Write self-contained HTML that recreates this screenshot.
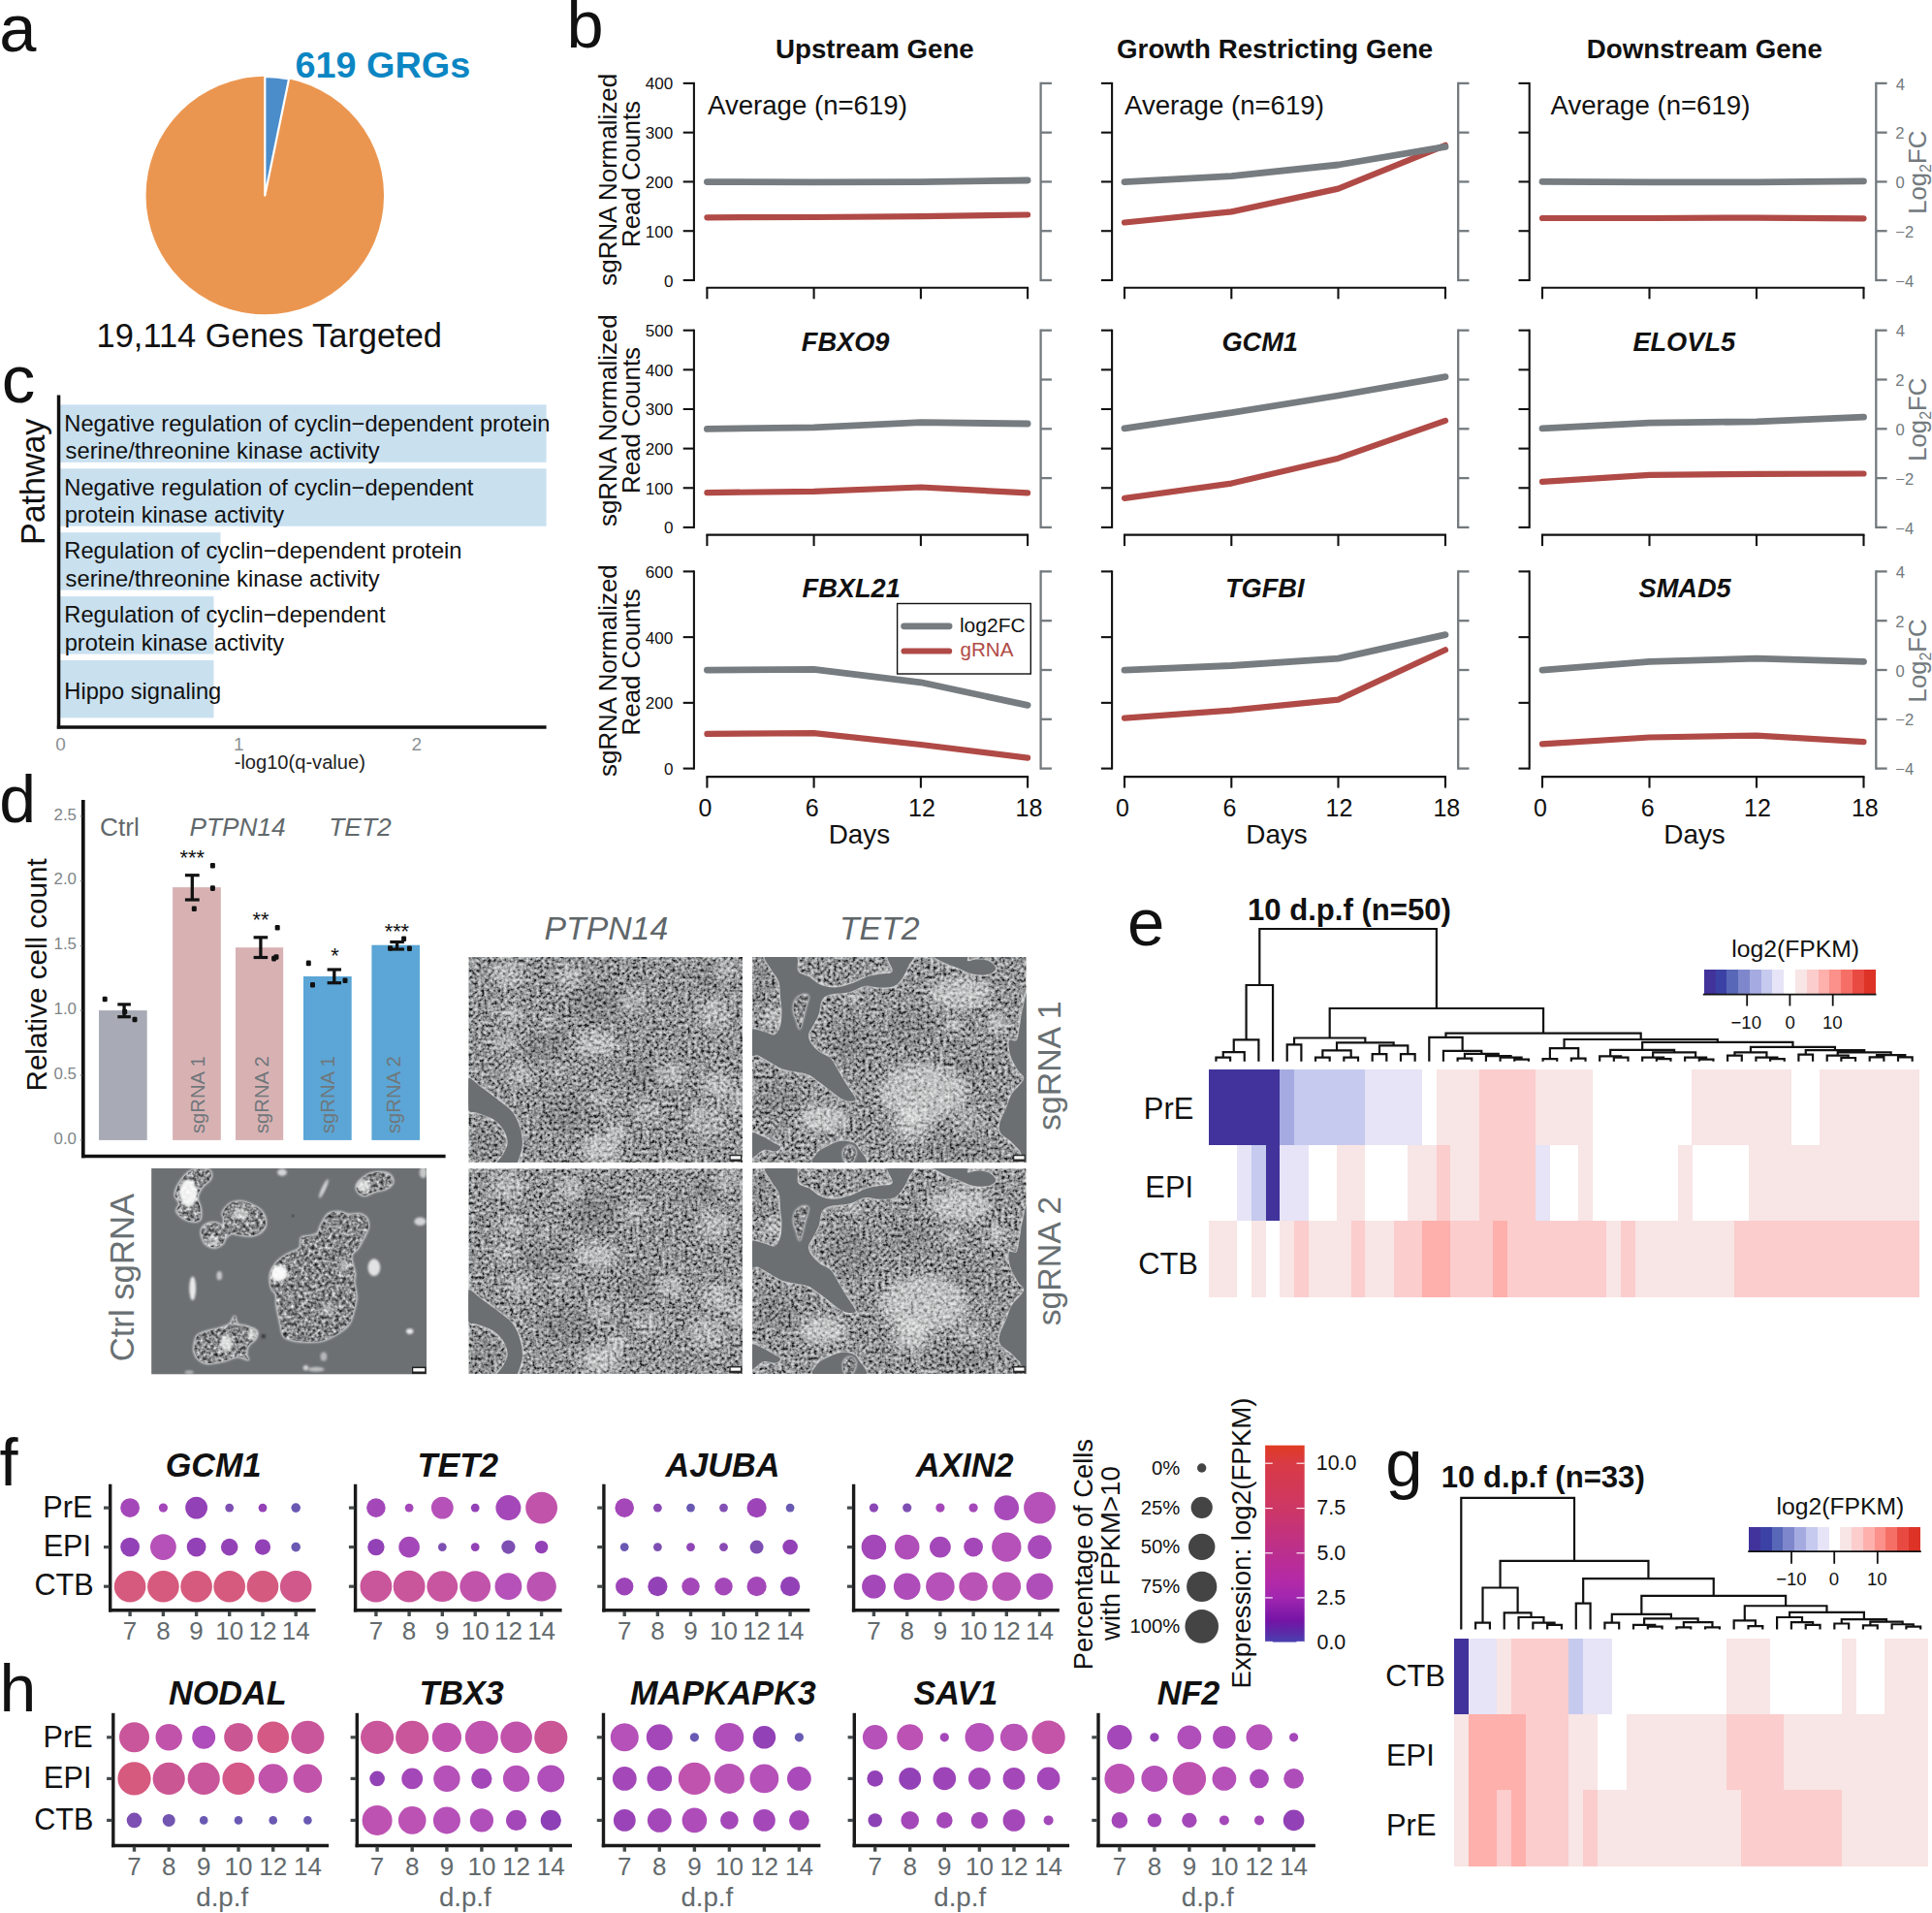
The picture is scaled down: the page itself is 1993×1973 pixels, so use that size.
<!DOCTYPE html>
<html><head><meta charset="utf-8"><title>Figure</title>
<style>html,body{margin:0;padding:0;background:#fff}svg{display:block}text{font-family:"Liberation Sans",sans-serif}</style>
</head><body>
<svg width="1993" height="1973" viewBox="0 0 1993 1973">
<rect width="1993" height="1973" fill="#fff"/>
<text x="-0.85" y="52.90" font-size="68.70" font-weight="normal" font-style="normal" fill="#111" text-anchor="start">a</text>
<circle cx="273.30" cy="201.55" r="122.75" fill="#eb9650"/>
<path d="M273.3,201.55 L273.3,78.80000000000001 A122.75,122.75 0 0 1 298.11,81.33 Z" fill="#4b8dcb" stroke="#fff" stroke-width="2.2" stroke-linejoin="round"/>
<text x="304.48" y="79.50" font-size="37.80" font-weight="bold" font-style="normal" fill="#0b86c3" text-anchor="start">619 GRGs</text>
<text x="99.62" y="357.60" font-size="34.40" font-weight="normal" font-style="normal" fill="#111" text-anchor="start">19,114 Genes Targeted</text>
<text x="584.45" y="49.20" font-size="68.50" font-weight="normal" font-style="normal" fill="#111" text-anchor="start">b</text>
<text x="800.04" y="60.00" font-size="27.70" font-weight="bold" font-style="normal" fill="#111" text-anchor="start">Upstream Gene</text>
<text x="1152.09" y="60.00" font-size="27.70" font-weight="bold" font-style="normal" fill="#111" text-anchor="start">Growth Restricting Gene</text>
<text x="1636.80" y="60.00" font-size="27.70" font-weight="bold" font-style="normal" fill="#111" text-anchor="start">Downstream Gene</text>
<polyline points="729.40,224.30 839.60,224.00 949.90,223.20 1060.10,221.50" fill="none" stroke="#b04a46" stroke-width="6.2" stroke-linecap="round" stroke-linejoin="round"/>
<polyline points="729.40,187.60 839.60,187.90 949.90,187.70 1060.10,186.00" fill="none" stroke="#767c80" stroke-width="6.8" stroke-linecap="round" stroke-linejoin="round"/>
<line x1="715.90" y1="84.90" x2="715.90" y2="290.00" stroke="#111" stroke-width="2.1" stroke-linecap="butt"/>
<line x1="704.70" y1="85.90" x2="715.90" y2="85.90" stroke="#111" stroke-width="2.1" stroke-linecap="butt"/>
<text x="694.40" y="92.40" font-size="17.10" font-weight="normal" font-style="normal" fill="#111" text-anchor="end">400</text>
<line x1="704.70" y1="136.68" x2="715.90" y2="136.68" stroke="#111" stroke-width="2.1" stroke-linecap="butt"/>
<text x="694.40" y="143.18" font-size="17.10" font-weight="normal" font-style="normal" fill="#111" text-anchor="end">300</text>
<line x1="704.70" y1="187.45" x2="715.90" y2="187.45" stroke="#111" stroke-width="2.1" stroke-linecap="butt"/>
<text x="694.40" y="193.95" font-size="17.10" font-weight="normal" font-style="normal" fill="#111" text-anchor="end">200</text>
<line x1="704.70" y1="238.22" x2="715.90" y2="238.22" stroke="#111" stroke-width="2.1" stroke-linecap="butt"/>
<text x="694.40" y="244.72" font-size="17.10" font-weight="normal" font-style="normal" fill="#111" text-anchor="end">100</text>
<line x1="704.70" y1="289.00" x2="715.90" y2="289.00" stroke="#111" stroke-width="2.1" stroke-linecap="butt"/>
<text x="694.40" y="295.50" font-size="17.10" font-weight="normal" font-style="normal" fill="#111" text-anchor="end">0</text>
<line x1="1073.60" y1="84.80" x2="1073.60" y2="290.10" stroke="#737a7e" stroke-width="2.3" stroke-linecap="butt"/>
<line x1="1073.60" y1="85.90" x2="1084.90" y2="85.90" stroke="#737a7e" stroke-width="2.3" stroke-linecap="butt"/>
<line x1="1073.60" y1="136.68" x2="1084.90" y2="136.68" stroke="#737a7e" stroke-width="2.3" stroke-linecap="butt"/>
<line x1="1073.60" y1="187.45" x2="1084.90" y2="187.45" stroke="#737a7e" stroke-width="2.3" stroke-linecap="butt"/>
<line x1="1073.60" y1="238.22" x2="1084.90" y2="238.22" stroke="#737a7e" stroke-width="2.3" stroke-linecap="butt"/>
<line x1="1073.60" y1="289.00" x2="1084.90" y2="289.00" stroke="#737a7e" stroke-width="2.3" stroke-linecap="butt"/>
<line x1="728.40" y1="296.80" x2="1061.10" y2="296.80" stroke="#111" stroke-width="2.1" stroke-linecap="butt"/>
<line x1="729.40" y1="296.80" x2="729.40" y2="308.30" stroke="#111" stroke-width="2.1" stroke-linecap="butt"/>
<line x1="839.60" y1="296.80" x2="839.60" y2="308.30" stroke="#111" stroke-width="2.1" stroke-linecap="butt"/>
<line x1="949.90" y1="296.80" x2="949.90" y2="308.30" stroke="#111" stroke-width="2.1" stroke-linecap="butt"/>
<line x1="1060.10" y1="296.80" x2="1060.10" y2="308.30" stroke="#111" stroke-width="2.1" stroke-linecap="butt"/>
<text x="730.00" y="118.20" font-size="27.60" font-weight="normal" font-style="normal" fill="#111" text-anchor="start">Average (n=619)</text>
<polyline points="1160.00,229.50 1270.30,218.40 1380.50,194.60 1491.00,149.80" fill="none" stroke="#b04a46" stroke-width="6.2" stroke-linecap="round" stroke-linejoin="round"/>
<polyline points="1160.00,187.60 1270.30,181.60 1380.50,170.00 1491.00,151.40" fill="none" stroke="#767c80" stroke-width="6.8" stroke-linecap="round" stroke-linejoin="round"/>
<line x1="1147.10" y1="84.90" x2="1147.10" y2="290.00" stroke="#111" stroke-width="2.1" stroke-linecap="butt"/>
<line x1="1135.90" y1="85.90" x2="1147.10" y2="85.90" stroke="#111" stroke-width="2.1" stroke-linecap="butt"/>
<line x1="1135.90" y1="136.68" x2="1147.10" y2="136.68" stroke="#111" stroke-width="2.1" stroke-linecap="butt"/>
<line x1="1135.90" y1="187.45" x2="1147.10" y2="187.45" stroke="#111" stroke-width="2.1" stroke-linecap="butt"/>
<line x1="1135.90" y1="238.22" x2="1147.10" y2="238.22" stroke="#111" stroke-width="2.1" stroke-linecap="butt"/>
<line x1="1135.90" y1="289.00" x2="1147.10" y2="289.00" stroke="#111" stroke-width="2.1" stroke-linecap="butt"/>
<line x1="1504.20" y1="84.80" x2="1504.20" y2="290.10" stroke="#737a7e" stroke-width="2.3" stroke-linecap="butt"/>
<line x1="1504.20" y1="85.90" x2="1515.50" y2="85.90" stroke="#737a7e" stroke-width="2.3" stroke-linecap="butt"/>
<line x1="1504.20" y1="136.68" x2="1515.50" y2="136.68" stroke="#737a7e" stroke-width="2.3" stroke-linecap="butt"/>
<line x1="1504.20" y1="187.45" x2="1515.50" y2="187.45" stroke="#737a7e" stroke-width="2.3" stroke-linecap="butt"/>
<line x1="1504.20" y1="238.22" x2="1515.50" y2="238.22" stroke="#737a7e" stroke-width="2.3" stroke-linecap="butt"/>
<line x1="1504.20" y1="289.00" x2="1515.50" y2="289.00" stroke="#737a7e" stroke-width="2.3" stroke-linecap="butt"/>
<line x1="1159.00" y1="296.80" x2="1492.00" y2="296.80" stroke="#111" stroke-width="2.1" stroke-linecap="butt"/>
<line x1="1160.00" y1="296.80" x2="1160.00" y2="308.30" stroke="#111" stroke-width="2.1" stroke-linecap="butt"/>
<line x1="1270.30" y1="296.80" x2="1270.30" y2="308.30" stroke="#111" stroke-width="2.1" stroke-linecap="butt"/>
<line x1="1380.50" y1="296.80" x2="1380.50" y2="308.30" stroke="#111" stroke-width="2.1" stroke-linecap="butt"/>
<line x1="1491.00" y1="296.80" x2="1491.00" y2="308.30" stroke="#111" stroke-width="2.1" stroke-linecap="butt"/>
<text x="1160.00" y="118.20" font-size="27.60" font-weight="normal" font-style="normal" fill="#111" text-anchor="start">Average (n=619)</text>
<polyline points="1591.00,225.00 1701.50,225.00 1812.00,224.60 1922.50,225.30" fill="none" stroke="#b04a46" stroke-width="6.2" stroke-linecap="round" stroke-linejoin="round"/>
<polyline points="1591.00,187.30 1701.50,187.80 1812.00,187.80 1922.50,186.80" fill="none" stroke="#767c80" stroke-width="6.8" stroke-linecap="round" stroke-linejoin="round"/>
<line x1="1577.70" y1="84.90" x2="1577.70" y2="290.00" stroke="#111" stroke-width="2.1" stroke-linecap="butt"/>
<line x1="1566.50" y1="85.90" x2="1577.70" y2="85.90" stroke="#111" stroke-width="2.1" stroke-linecap="butt"/>
<line x1="1566.50" y1="136.68" x2="1577.70" y2="136.68" stroke="#111" stroke-width="2.1" stroke-linecap="butt"/>
<line x1="1566.50" y1="187.45" x2="1577.70" y2="187.45" stroke="#111" stroke-width="2.1" stroke-linecap="butt"/>
<line x1="1566.50" y1="238.22" x2="1577.70" y2="238.22" stroke="#111" stroke-width="2.1" stroke-linecap="butt"/>
<line x1="1566.50" y1="289.00" x2="1577.70" y2="289.00" stroke="#111" stroke-width="2.1" stroke-linecap="butt"/>
<line x1="1935.30" y1="84.80" x2="1935.30" y2="290.10" stroke="#737a7e" stroke-width="2.3" stroke-linecap="butt"/>
<line x1="1935.30" y1="85.90" x2="1946.60" y2="85.90" stroke="#737a7e" stroke-width="2.3" stroke-linecap="butt"/>
<text x="1955.77" y="92.50" font-size="16.60" font-weight="normal" font-style="normal" fill="#737a7e" text-anchor="start">4</text>
<line x1="1935.30" y1="136.68" x2="1946.60" y2="136.68" stroke="#737a7e" stroke-width="2.3" stroke-linecap="butt"/>
<text x="1955.27" y="143.28" font-size="16.60" font-weight="normal" font-style="normal" fill="#737a7e" text-anchor="start">2</text>
<line x1="1935.30" y1="187.45" x2="1946.60" y2="187.45" stroke="#737a7e" stroke-width="2.3" stroke-linecap="butt"/>
<text x="1955.44" y="194.05" font-size="16.60" font-weight="normal" font-style="normal" fill="#737a7e" text-anchor="start">0</text>
<line x1="1935.30" y1="238.22" x2="1946.60" y2="238.22" stroke="#737a7e" stroke-width="2.3" stroke-linecap="butt"/>
<text x="1955.27" y="244.82" font-size="16.60" font-weight="normal" font-style="normal" fill="#737a7e" text-anchor="start">−2</text>
<line x1="1935.30" y1="289.00" x2="1946.60" y2="289.00" stroke="#737a7e" stroke-width="2.3" stroke-linecap="butt"/>
<text x="1955.27" y="295.60" font-size="16.60" font-weight="normal" font-style="normal" fill="#737a7e" text-anchor="start">−4</text>
<line x1="1590.00" y1="296.80" x2="1923.50" y2="296.80" stroke="#111" stroke-width="2.1" stroke-linecap="butt"/>
<line x1="1591.00" y1="296.80" x2="1591.00" y2="308.30" stroke="#111" stroke-width="2.1" stroke-linecap="butt"/>
<line x1="1701.50" y1="296.80" x2="1701.50" y2="308.30" stroke="#111" stroke-width="2.1" stroke-linecap="butt"/>
<line x1="1812.00" y1="296.80" x2="1812.00" y2="308.30" stroke="#111" stroke-width="2.1" stroke-linecap="butt"/>
<line x1="1922.50" y1="296.80" x2="1922.50" y2="308.30" stroke="#111" stroke-width="2.1" stroke-linecap="butt"/>
<text x="1599.50" y="118.20" font-size="27.60" font-weight="normal" font-style="normal" fill="#111" text-anchor="start">Average (n=619)</text>
<text x="636.30" y="294.65" font-size="25.90" font-weight="normal" font-style="normal" fill="#111" text-anchor="start" transform="rotate(-90 636.30 294.65)">sgRNA Normalized</text>
<text x="660.50" y="255.07" font-size="25.90" font-weight="normal" font-style="normal" fill="#111" text-anchor="start" transform="rotate(-90 660.50 255.07)">Read Counts</text>
<text x="1987" y="220.8" font-size="25.7" fill="#737a7e" transform="rotate(-90 1987 220.8)">Log<tspan font-size="16" dy="5.5">2</tspan><tspan dy="-5.5">FC</tspan></text>
<polyline points="729.40,508.10 839.60,506.90 949.90,502.50 1060.10,508.40" fill="none" stroke="#b04a46" stroke-width="6.2" stroke-linecap="round" stroke-linejoin="round"/>
<polyline points="729.40,442.40 839.60,440.90 949.90,435.70 1060.10,437.00" fill="none" stroke="#767c80" stroke-width="6.8" stroke-linecap="round" stroke-linejoin="round"/>
<line x1="715.90" y1="339.70" x2="715.90" y2="544.90" stroke="#111" stroke-width="2.1" stroke-linecap="butt"/>
<line x1="704.70" y1="340.70" x2="715.90" y2="340.70" stroke="#111" stroke-width="2.1" stroke-linecap="butt"/>
<text x="694.40" y="347.20" font-size="17.10" font-weight="normal" font-style="normal" fill="#111" text-anchor="end">500</text>
<line x1="704.70" y1="381.34" x2="715.90" y2="381.34" stroke="#111" stroke-width="2.1" stroke-linecap="butt"/>
<text x="694.40" y="387.84" font-size="17.10" font-weight="normal" font-style="normal" fill="#111" text-anchor="end">400</text>
<line x1="704.70" y1="421.98" x2="715.90" y2="421.98" stroke="#111" stroke-width="2.1" stroke-linecap="butt"/>
<text x="694.40" y="428.48" font-size="17.10" font-weight="normal" font-style="normal" fill="#111" text-anchor="end">300</text>
<line x1="704.70" y1="462.62" x2="715.90" y2="462.62" stroke="#111" stroke-width="2.1" stroke-linecap="butt"/>
<text x="694.40" y="469.12" font-size="17.10" font-weight="normal" font-style="normal" fill="#111" text-anchor="end">200</text>
<line x1="704.70" y1="503.26" x2="715.90" y2="503.26" stroke="#111" stroke-width="2.1" stroke-linecap="butt"/>
<text x="694.40" y="509.76" font-size="17.10" font-weight="normal" font-style="normal" fill="#111" text-anchor="end">100</text>
<line x1="704.70" y1="543.90" x2="715.90" y2="543.90" stroke="#111" stroke-width="2.1" stroke-linecap="butt"/>
<text x="694.40" y="550.40" font-size="17.10" font-weight="normal" font-style="normal" fill="#111" text-anchor="end">0</text>
<line x1="1073.60" y1="339.60" x2="1073.60" y2="545.00" stroke="#737a7e" stroke-width="2.3" stroke-linecap="butt"/>
<line x1="1073.60" y1="340.70" x2="1084.90" y2="340.70" stroke="#737a7e" stroke-width="2.3" stroke-linecap="butt"/>
<line x1="1073.60" y1="391.50" x2="1084.90" y2="391.50" stroke="#737a7e" stroke-width="2.3" stroke-linecap="butt"/>
<line x1="1073.60" y1="442.30" x2="1084.90" y2="442.30" stroke="#737a7e" stroke-width="2.3" stroke-linecap="butt"/>
<line x1="1073.60" y1="493.10" x2="1084.90" y2="493.10" stroke="#737a7e" stroke-width="2.3" stroke-linecap="butt"/>
<line x1="1073.60" y1="543.90" x2="1084.90" y2="543.90" stroke="#737a7e" stroke-width="2.3" stroke-linecap="butt"/>
<line x1="728.40" y1="551.60" x2="1061.10" y2="551.60" stroke="#111" stroke-width="2.1" stroke-linecap="butt"/>
<line x1="729.40" y1="551.60" x2="729.40" y2="563.10" stroke="#111" stroke-width="2.1" stroke-linecap="butt"/>
<line x1="839.60" y1="551.60" x2="839.60" y2="563.10" stroke="#111" stroke-width="2.1" stroke-linecap="butt"/>
<line x1="949.90" y1="551.60" x2="949.90" y2="563.10" stroke="#111" stroke-width="2.1" stroke-linecap="butt"/>
<line x1="1060.10" y1="551.60" x2="1060.10" y2="563.10" stroke="#111" stroke-width="2.1" stroke-linecap="butt"/>
<text x="826.79" y="361.90" font-size="27.20" font-weight="bold" font-style="italic" fill="#111" text-anchor="start">FBXO9</text>
<polyline points="1160.00,513.90 1270.30,498.60 1380.50,472.70 1491.00,433.90" fill="none" stroke="#b04a46" stroke-width="6.2" stroke-linecap="round" stroke-linejoin="round"/>
<polyline points="1160.00,441.80 1270.30,425.60 1380.50,408.00 1491.00,388.60" fill="none" stroke="#767c80" stroke-width="6.8" stroke-linecap="round" stroke-linejoin="round"/>
<line x1="1147.10" y1="339.70" x2="1147.10" y2="544.90" stroke="#111" stroke-width="2.1" stroke-linecap="butt"/>
<line x1="1135.90" y1="340.70" x2="1147.10" y2="340.70" stroke="#111" stroke-width="2.1" stroke-linecap="butt"/>
<line x1="1135.90" y1="381.34" x2="1147.10" y2="381.34" stroke="#111" stroke-width="2.1" stroke-linecap="butt"/>
<line x1="1135.90" y1="421.98" x2="1147.10" y2="421.98" stroke="#111" stroke-width="2.1" stroke-linecap="butt"/>
<line x1="1135.90" y1="462.62" x2="1147.10" y2="462.62" stroke="#111" stroke-width="2.1" stroke-linecap="butt"/>
<line x1="1135.90" y1="503.26" x2="1147.10" y2="503.26" stroke="#111" stroke-width="2.1" stroke-linecap="butt"/>
<line x1="1135.90" y1="543.90" x2="1147.10" y2="543.90" stroke="#111" stroke-width="2.1" stroke-linecap="butt"/>
<line x1="1504.20" y1="339.60" x2="1504.20" y2="545.00" stroke="#737a7e" stroke-width="2.3" stroke-linecap="butt"/>
<line x1="1504.20" y1="340.70" x2="1515.50" y2="340.70" stroke="#737a7e" stroke-width="2.3" stroke-linecap="butt"/>
<line x1="1504.20" y1="391.50" x2="1515.50" y2="391.50" stroke="#737a7e" stroke-width="2.3" stroke-linecap="butt"/>
<line x1="1504.20" y1="442.30" x2="1515.50" y2="442.30" stroke="#737a7e" stroke-width="2.3" stroke-linecap="butt"/>
<line x1="1504.20" y1="493.10" x2="1515.50" y2="493.10" stroke="#737a7e" stroke-width="2.3" stroke-linecap="butt"/>
<line x1="1504.20" y1="543.90" x2="1515.50" y2="543.90" stroke="#737a7e" stroke-width="2.3" stroke-linecap="butt"/>
<line x1="1159.00" y1="551.60" x2="1492.00" y2="551.60" stroke="#111" stroke-width="2.1" stroke-linecap="butt"/>
<line x1="1160.00" y1="551.60" x2="1160.00" y2="563.10" stroke="#111" stroke-width="2.1" stroke-linecap="butt"/>
<line x1="1270.30" y1="551.60" x2="1270.30" y2="563.10" stroke="#111" stroke-width="2.1" stroke-linecap="butt"/>
<line x1="1380.50" y1="551.60" x2="1380.50" y2="563.10" stroke="#111" stroke-width="2.1" stroke-linecap="butt"/>
<line x1="1491.00" y1="551.60" x2="1491.00" y2="563.10" stroke="#111" stroke-width="2.1" stroke-linecap="butt"/>
<text x="1260.44" y="361.90" font-size="27.20" font-weight="bold" font-style="italic" fill="#111" text-anchor="start">GCM1</text>
<polyline points="1591.00,496.80 1701.50,489.80 1812.00,488.90 1922.50,488.50" fill="none" stroke="#b04a46" stroke-width="6.2" stroke-linecap="round" stroke-linejoin="round"/>
<polyline points="1591.00,441.80 1701.50,436.20 1812.00,434.80 1922.50,430.20" fill="none" stroke="#767c80" stroke-width="6.8" stroke-linecap="round" stroke-linejoin="round"/>
<line x1="1577.70" y1="339.70" x2="1577.70" y2="544.90" stroke="#111" stroke-width="2.1" stroke-linecap="butt"/>
<line x1="1566.50" y1="340.70" x2="1577.70" y2="340.70" stroke="#111" stroke-width="2.1" stroke-linecap="butt"/>
<line x1="1566.50" y1="381.34" x2="1577.70" y2="381.34" stroke="#111" stroke-width="2.1" stroke-linecap="butt"/>
<line x1="1566.50" y1="421.98" x2="1577.70" y2="421.98" stroke="#111" stroke-width="2.1" stroke-linecap="butt"/>
<line x1="1566.50" y1="462.62" x2="1577.70" y2="462.62" stroke="#111" stroke-width="2.1" stroke-linecap="butt"/>
<line x1="1566.50" y1="503.26" x2="1577.70" y2="503.26" stroke="#111" stroke-width="2.1" stroke-linecap="butt"/>
<line x1="1566.50" y1="543.90" x2="1577.70" y2="543.90" stroke="#111" stroke-width="2.1" stroke-linecap="butt"/>
<line x1="1935.30" y1="339.60" x2="1935.30" y2="545.00" stroke="#737a7e" stroke-width="2.3" stroke-linecap="butt"/>
<line x1="1935.30" y1="340.70" x2="1946.60" y2="340.70" stroke="#737a7e" stroke-width="2.3" stroke-linecap="butt"/>
<text x="1955.77" y="347.30" font-size="16.60" font-weight="normal" font-style="normal" fill="#737a7e" text-anchor="start">4</text>
<line x1="1935.30" y1="391.50" x2="1946.60" y2="391.50" stroke="#737a7e" stroke-width="2.3" stroke-linecap="butt"/>
<text x="1955.27" y="398.10" font-size="16.60" font-weight="normal" font-style="normal" fill="#737a7e" text-anchor="start">2</text>
<line x1="1935.30" y1="442.30" x2="1946.60" y2="442.30" stroke="#737a7e" stroke-width="2.3" stroke-linecap="butt"/>
<text x="1955.44" y="448.90" font-size="16.60" font-weight="normal" font-style="normal" fill="#737a7e" text-anchor="start">0</text>
<line x1="1935.30" y1="493.10" x2="1946.60" y2="493.10" stroke="#737a7e" stroke-width="2.3" stroke-linecap="butt"/>
<text x="1955.27" y="499.70" font-size="16.60" font-weight="normal" font-style="normal" fill="#737a7e" text-anchor="start">−2</text>
<line x1="1935.30" y1="543.90" x2="1946.60" y2="543.90" stroke="#737a7e" stroke-width="2.3" stroke-linecap="butt"/>
<text x="1955.27" y="550.50" font-size="16.60" font-weight="normal" font-style="normal" fill="#737a7e" text-anchor="start">−4</text>
<line x1="1590.00" y1="551.60" x2="1923.50" y2="551.60" stroke="#111" stroke-width="2.1" stroke-linecap="butt"/>
<line x1="1591.00" y1="551.60" x2="1591.00" y2="563.10" stroke="#111" stroke-width="2.1" stroke-linecap="butt"/>
<line x1="1701.50" y1="551.60" x2="1701.50" y2="563.10" stroke="#111" stroke-width="2.1" stroke-linecap="butt"/>
<line x1="1812.00" y1="551.60" x2="1812.00" y2="563.10" stroke="#111" stroke-width="2.1" stroke-linecap="butt"/>
<line x1="1922.50" y1="551.60" x2="1922.50" y2="563.10" stroke="#111" stroke-width="2.1" stroke-linecap="butt"/>
<text x="1684.39" y="361.90" font-size="27.20" font-weight="bold" font-style="italic" fill="#111" text-anchor="start">ELOVL5</text>
<text x="636.30" y="543.05" font-size="25.90" font-weight="normal" font-style="normal" fill="#111" text-anchor="start" transform="rotate(-90 636.30 543.05)">sgRNA Normalized</text>
<text x="660.50" y="509.07" font-size="25.90" font-weight="normal" font-style="normal" fill="#111" text-anchor="start" transform="rotate(-90 660.50 509.07)">Read Counts</text>
<text x="1987" y="475.7" font-size="25.7" fill="#737a7e" transform="rotate(-90 1987 475.7)">Log<tspan font-size="16" dy="5.5">2</tspan><tspan dy="-5.5">FC</tspan></text>
<polyline points="729.40,756.90 839.60,756.10 949.90,768.00 1060.10,781.70" fill="none" stroke="#b04a46" stroke-width="6.2" stroke-linecap="round" stroke-linejoin="round"/>
<polyline points="729.40,691.10 839.60,690.30 949.90,703.80 1060.10,727.40" fill="none" stroke="#767c80" stroke-width="6.8" stroke-linecap="round" stroke-linejoin="round"/>
<line x1="715.90" y1="588.40" x2="715.90" y2="793.60" stroke="#111" stroke-width="2.1" stroke-linecap="butt"/>
<line x1="704.70" y1="589.40" x2="715.90" y2="589.40" stroke="#111" stroke-width="2.1" stroke-linecap="butt"/>
<text x="694.40" y="595.90" font-size="17.10" font-weight="normal" font-style="normal" fill="#111" text-anchor="end">600</text>
<line x1="704.70" y1="657.13" x2="715.90" y2="657.13" stroke="#111" stroke-width="2.1" stroke-linecap="butt"/>
<text x="694.40" y="663.63" font-size="17.10" font-weight="normal" font-style="normal" fill="#111" text-anchor="end">400</text>
<line x1="704.70" y1="724.87" x2="715.90" y2="724.87" stroke="#111" stroke-width="2.1" stroke-linecap="butt"/>
<text x="694.40" y="731.37" font-size="17.10" font-weight="normal" font-style="normal" fill="#111" text-anchor="end">200</text>
<line x1="704.70" y1="792.60" x2="715.90" y2="792.60" stroke="#111" stroke-width="2.1" stroke-linecap="butt"/>
<text x="694.40" y="799.10" font-size="17.10" font-weight="normal" font-style="normal" fill="#111" text-anchor="end">0</text>
<line x1="1073.60" y1="588.30" x2="1073.60" y2="793.70" stroke="#737a7e" stroke-width="2.3" stroke-linecap="butt"/>
<line x1="1073.60" y1="589.40" x2="1084.90" y2="589.40" stroke="#737a7e" stroke-width="2.3" stroke-linecap="butt"/>
<line x1="1073.60" y1="640.20" x2="1084.90" y2="640.20" stroke="#737a7e" stroke-width="2.3" stroke-linecap="butt"/>
<line x1="1073.60" y1="691.00" x2="1084.90" y2="691.00" stroke="#737a7e" stroke-width="2.3" stroke-linecap="butt"/>
<line x1="1073.60" y1="741.80" x2="1084.90" y2="741.80" stroke="#737a7e" stroke-width="2.3" stroke-linecap="butt"/>
<line x1="1073.60" y1="792.60" x2="1084.90" y2="792.60" stroke="#737a7e" stroke-width="2.3" stroke-linecap="butt"/>
<line x1="728.40" y1="801.10" x2="1061.10" y2="801.10" stroke="#111" stroke-width="2.1" stroke-linecap="butt"/>
<line x1="729.40" y1="801.10" x2="729.40" y2="812.60" stroke="#111" stroke-width="2.1" stroke-linecap="butt"/>
<line x1="839.60" y1="801.10" x2="839.60" y2="812.60" stroke="#111" stroke-width="2.1" stroke-linecap="butt"/>
<line x1="949.90" y1="801.10" x2="949.90" y2="812.60" stroke="#111" stroke-width="2.1" stroke-linecap="butt"/>
<line x1="1060.10" y1="801.10" x2="1060.10" y2="812.60" stroke="#111" stroke-width="2.1" stroke-linecap="butt"/>
<text x="720.50" y="841.70" font-size="25.00" font-weight="normal" font-style="normal" fill="#111" text-anchor="start">0</text>
<text x="830.75" y="841.70" font-size="25.00" font-weight="normal" font-style="normal" fill="#111" text-anchor="start">6</text>
<text x="937.02" y="841.70" font-size="25.00" font-weight="normal" font-style="normal" fill="#111" text-anchor="start">12</text>
<text x="1047.52" y="841.70" font-size="25.00" font-weight="normal" font-style="normal" fill="#111" text-anchor="start">18</text>
<text x="854.67" y="870.00" font-size="27.90" font-weight="normal" font-style="normal" fill="#111" text-anchor="start">Days</text>
<text x="827.59" y="615.80" font-size="27.20" font-weight="bold" font-style="italic" fill="#111" text-anchor="start">FBXL21</text>
<polyline points="1160.00,740.60 1270.30,732.70 1380.50,721.60 1491.00,670.30" fill="none" stroke="#b04a46" stroke-width="6.2" stroke-linecap="round" stroke-linejoin="round"/>
<polyline points="1160.00,691.10 1270.30,686.50 1380.50,679.10 1491.00,654.60" fill="none" stroke="#767c80" stroke-width="6.8" stroke-linecap="round" stroke-linejoin="round"/>
<line x1="1147.10" y1="588.40" x2="1147.10" y2="793.60" stroke="#111" stroke-width="2.1" stroke-linecap="butt"/>
<line x1="1135.90" y1="589.40" x2="1147.10" y2="589.40" stroke="#111" stroke-width="2.1" stroke-linecap="butt"/>
<line x1="1135.90" y1="657.13" x2="1147.10" y2="657.13" stroke="#111" stroke-width="2.1" stroke-linecap="butt"/>
<line x1="1135.90" y1="724.87" x2="1147.10" y2="724.87" stroke="#111" stroke-width="2.1" stroke-linecap="butt"/>
<line x1="1135.90" y1="792.60" x2="1147.10" y2="792.60" stroke="#111" stroke-width="2.1" stroke-linecap="butt"/>
<line x1="1504.20" y1="588.30" x2="1504.20" y2="793.70" stroke="#737a7e" stroke-width="2.3" stroke-linecap="butt"/>
<line x1="1504.20" y1="589.40" x2="1515.50" y2="589.40" stroke="#737a7e" stroke-width="2.3" stroke-linecap="butt"/>
<line x1="1504.20" y1="640.20" x2="1515.50" y2="640.20" stroke="#737a7e" stroke-width="2.3" stroke-linecap="butt"/>
<line x1="1504.20" y1="691.00" x2="1515.50" y2="691.00" stroke="#737a7e" stroke-width="2.3" stroke-linecap="butt"/>
<line x1="1504.20" y1="741.80" x2="1515.50" y2="741.80" stroke="#737a7e" stroke-width="2.3" stroke-linecap="butt"/>
<line x1="1504.20" y1="792.60" x2="1515.50" y2="792.60" stroke="#737a7e" stroke-width="2.3" stroke-linecap="butt"/>
<line x1="1159.00" y1="801.10" x2="1492.00" y2="801.10" stroke="#111" stroke-width="2.1" stroke-linecap="butt"/>
<line x1="1160.00" y1="801.10" x2="1160.00" y2="812.60" stroke="#111" stroke-width="2.1" stroke-linecap="butt"/>
<line x1="1270.30" y1="801.10" x2="1270.30" y2="812.60" stroke="#111" stroke-width="2.1" stroke-linecap="butt"/>
<line x1="1380.50" y1="801.10" x2="1380.50" y2="812.60" stroke="#111" stroke-width="2.1" stroke-linecap="butt"/>
<line x1="1491.00" y1="801.10" x2="1491.00" y2="812.60" stroke="#111" stroke-width="2.1" stroke-linecap="butt"/>
<text x="1151.10" y="841.70" font-size="25.00" font-weight="normal" font-style="normal" fill="#111" text-anchor="start">0</text>
<text x="1261.45" y="841.70" font-size="25.00" font-weight="normal" font-style="normal" fill="#111" text-anchor="start">6</text>
<text x="1367.62" y="841.70" font-size="25.00" font-weight="normal" font-style="normal" fill="#111" text-anchor="start">12</text>
<text x="1478.42" y="841.70" font-size="25.00" font-weight="normal" font-style="normal" fill="#111" text-anchor="start">18</text>
<text x="1285.27" y="870.00" font-size="27.90" font-weight="normal" font-style="normal" fill="#111" text-anchor="start">Days</text>
<text x="1263.90" y="615.80" font-size="27.20" font-weight="bold" font-style="italic" fill="#111" text-anchor="start">TGFBI</text>
<polyline points="1591.00,767.40 1701.50,760.50 1812.00,758.60 1922.50,765.10" fill="none" stroke="#b04a46" stroke-width="6.2" stroke-linecap="round" stroke-linejoin="round"/>
<polyline points="1591.00,691.10 1701.50,682.30 1812.00,679.10 1922.50,682.30" fill="none" stroke="#767c80" stroke-width="6.8" stroke-linecap="round" stroke-linejoin="round"/>
<line x1="1577.70" y1="588.40" x2="1577.70" y2="793.60" stroke="#111" stroke-width="2.1" stroke-linecap="butt"/>
<line x1="1566.50" y1="589.40" x2="1577.70" y2="589.40" stroke="#111" stroke-width="2.1" stroke-linecap="butt"/>
<line x1="1566.50" y1="657.13" x2="1577.70" y2="657.13" stroke="#111" stroke-width="2.1" stroke-linecap="butt"/>
<line x1="1566.50" y1="724.87" x2="1577.70" y2="724.87" stroke="#111" stroke-width="2.1" stroke-linecap="butt"/>
<line x1="1566.50" y1="792.60" x2="1577.70" y2="792.60" stroke="#111" stroke-width="2.1" stroke-linecap="butt"/>
<line x1="1935.30" y1="588.30" x2="1935.30" y2="793.70" stroke="#737a7e" stroke-width="2.3" stroke-linecap="butt"/>
<line x1="1935.30" y1="589.40" x2="1946.60" y2="589.40" stroke="#737a7e" stroke-width="2.3" stroke-linecap="butt"/>
<text x="1955.77" y="596.00" font-size="16.60" font-weight="normal" font-style="normal" fill="#737a7e" text-anchor="start">4</text>
<line x1="1935.30" y1="640.20" x2="1946.60" y2="640.20" stroke="#737a7e" stroke-width="2.3" stroke-linecap="butt"/>
<text x="1955.27" y="646.80" font-size="16.60" font-weight="normal" font-style="normal" fill="#737a7e" text-anchor="start">2</text>
<line x1="1935.30" y1="691.00" x2="1946.60" y2="691.00" stroke="#737a7e" stroke-width="2.3" stroke-linecap="butt"/>
<text x="1955.44" y="697.60" font-size="16.60" font-weight="normal" font-style="normal" fill="#737a7e" text-anchor="start">0</text>
<line x1="1935.30" y1="741.80" x2="1946.60" y2="741.80" stroke="#737a7e" stroke-width="2.3" stroke-linecap="butt"/>
<text x="1955.27" y="748.40" font-size="16.60" font-weight="normal" font-style="normal" fill="#737a7e" text-anchor="start">−2</text>
<line x1="1935.30" y1="792.60" x2="1946.60" y2="792.60" stroke="#737a7e" stroke-width="2.3" stroke-linecap="butt"/>
<text x="1955.27" y="799.20" font-size="16.60" font-weight="normal" font-style="normal" fill="#737a7e" text-anchor="start">−4</text>
<line x1="1590.00" y1="801.10" x2="1923.50" y2="801.10" stroke="#111" stroke-width="2.1" stroke-linecap="butt"/>
<line x1="1591.00" y1="801.10" x2="1591.00" y2="812.60" stroke="#111" stroke-width="2.1" stroke-linecap="butt"/>
<line x1="1701.50" y1="801.10" x2="1701.50" y2="812.60" stroke="#111" stroke-width="2.1" stroke-linecap="butt"/>
<line x1="1812.00" y1="801.10" x2="1812.00" y2="812.60" stroke="#111" stroke-width="2.1" stroke-linecap="butt"/>
<line x1="1922.50" y1="801.10" x2="1922.50" y2="812.60" stroke="#111" stroke-width="2.1" stroke-linecap="butt"/>
<text x="1582.10" y="841.70" font-size="25.00" font-weight="normal" font-style="normal" fill="#111" text-anchor="start">0</text>
<text x="1692.65" y="841.70" font-size="25.00" font-weight="normal" font-style="normal" fill="#111" text-anchor="start">6</text>
<text x="1799.12" y="841.70" font-size="25.00" font-weight="normal" font-style="normal" fill="#111" text-anchor="start">12</text>
<text x="1909.92" y="841.70" font-size="25.00" font-weight="normal" font-style="normal" fill="#111" text-anchor="start">18</text>
<text x="1716.27" y="870.00" font-size="27.90" font-weight="normal" font-style="normal" fill="#111" text-anchor="start">Days</text>
<text x="1690.53" y="615.80" font-size="27.20" font-weight="bold" font-style="italic" fill="#111" text-anchor="start">SMAD5</text>
<text x="636.30" y="800.95" font-size="25.90" font-weight="normal" font-style="normal" fill="#111" text-anchor="start" transform="rotate(-90 636.30 800.95)">sgRNA Normalized</text>
<text x="660.50" y="758.47" font-size="25.90" font-weight="normal" font-style="normal" fill="#111" text-anchor="start" transform="rotate(-90 660.50 758.47)">Read Counts</text>
<text x="1987" y="724.4" font-size="25.7" fill="#737a7e" transform="rotate(-90 1987 724.4)">Log<tspan font-size="16" dy="5.5">2</tspan><tspan dy="-5.5">FC</tspan></text>
<rect x="925.60" y="622.50" width="137.70" height="72.50" fill="#fff" stroke="#111" stroke-width="1.4"/>
<line x1="932.60" y1="645.80" x2="979.10" y2="645.80" stroke="#767c80" stroke-width="6.8" stroke-linecap="round"/>
<line x1="932.60" y1="671.50" x2="979.10" y2="671.50" stroke="#b04a46" stroke-width="6.2" stroke-linecap="round"/>
<text x="989.93" y="652.30" font-size="21.00" font-weight="normal" font-style="normal" fill="#111" text-anchor="start">log2FC</text>
<text x="990.48" y="677.40" font-size="20.60" font-weight="normal" font-style="normal" fill="#b04a46" text-anchor="start">gRNA</text>
<text x="1.64" y="414.70" font-size="69.00" font-weight="normal" font-style="normal" fill="#111" text-anchor="start">c</text>
<rect x="61.00" y="417.40" width="502.60" height="59.40" fill="#c9e0ef"/>
<text x="66.30" y="444.60" font-size="23.70" font-weight="normal" font-style="normal" fill="#111" text-anchor="start">Negative regulation of cyclin−dependent protein</text>
<text x="67.61" y="473.40" font-size="23.70" font-weight="normal" font-style="normal" fill="#111" text-anchor="start">serine/threonine kinase activity</text>
<rect x="61.00" y="483.30" width="502.60" height="59.40" fill="#c9e0ef"/>
<text x="66.30" y="510.50" font-size="23.70" font-weight="normal" font-style="normal" fill="#111" text-anchor="start">Negative regulation of cyclin−dependent</text>
<text x="66.66" y="539.30" font-size="23.70" font-weight="normal" font-style="normal" fill="#111" text-anchor="start">protein kinase activity</text>
<rect x="61.00" y="549.20" width="166.50" height="59.40" fill="#c9e0ef"/>
<text x="66.30" y="576.40" font-size="23.70" font-weight="normal" font-style="normal" fill="#111" text-anchor="start">Regulation of cyclin−dependent protein</text>
<text x="67.61" y="605.20" font-size="23.70" font-weight="normal" font-style="normal" fill="#111" text-anchor="start">serine/threonine kinase activity</text>
<rect x="61.00" y="615.10" width="159.50" height="59.40" fill="#c9e0ef"/>
<text x="66.30" y="642.30" font-size="23.70" font-weight="normal" font-style="normal" fill="#111" text-anchor="start">Regulation of cyclin−dependent</text>
<text x="66.66" y="671.10" font-size="23.70" font-weight="normal" font-style="normal" fill="#111" text-anchor="start">protein kinase activity</text>
<rect x="61.00" y="681.00" width="159.50" height="59.40" fill="#c9e0ef"/>
<text x="66.30" y="721.40" font-size="23.70" font-weight="normal" font-style="normal" fill="#111" text-anchor="start">Hippo signaling</text>
<line x1="60.55" y1="407.60" x2="60.55" y2="751.60" stroke="#111" stroke-width="3.5" stroke-linecap="butt"/>
<line x1="58.80" y1="750.00" x2="563.60" y2="750.00" stroke="#111" stroke-width="3.3" stroke-linecap="butt"/>
<text x="62.60" y="774.40" font-size="19.00" font-weight="normal" font-style="normal" fill="#8b9194" text-anchor="middle">0</text>
<text x="246.30" y="774.40" font-size="19.00" font-weight="normal" font-style="normal" fill="#8b9194" text-anchor="middle">1</text>
<text x="429.70" y="774.40" font-size="19.00" font-weight="normal" font-style="normal" fill="#8b9194" text-anchor="middle">2</text>
<text x="241.70" y="792.80" font-size="20.10" font-weight="normal" font-style="normal" fill="#222" text-anchor="start">-log10(q-value)</text>
<text x="45.80" y="562.02" font-size="35.30" font-weight="normal" font-style="normal" fill="#111" text-anchor="start" transform="rotate(-90 45.80 562.02)" textLength="130.4" lengthAdjust="spacingAndGlyphs">Pathway</text>
<text x="-0.82" y="847.80" font-size="68.00" font-weight="normal" font-style="normal" fill="#111" text-anchor="start">d</text>
<rect x="102.00" y="1042.10" width="49.70" height="133.80" fill="#a8abb5"/>
<rect x="178.10" y="915.10" width="49.70" height="260.80" fill="#d8b2b3"/>
<rect x="243.00" y="977.20" width="49.20" height="198.70" fill="#d8b2b3"/>
<rect x="313.00" y="1007.00" width="49.70" height="168.90" fill="#5ba6d6"/>
<rect x="383.40" y="974.70" width="49.60" height="201.20" fill="#5ba6d6"/>
<text x="210.70" y="1169.01" font-size="20.20" font-weight="normal" font-style="normal" fill="#70777b" text-anchor="start" transform="rotate(-90 210.70 1169.01)">sgRNA 1</text>
<text x="277.20" y="1169.01" font-size="20.20" font-weight="normal" font-style="normal" fill="#70777b" text-anchor="start" transform="rotate(-90 277.20 1169.01)">sgRNA 2</text>
<text x="345.30" y="1169.01" font-size="20.20" font-weight="normal" font-style="normal" fill="#70777b" text-anchor="start" transform="rotate(-90 345.30 1169.01)">sgRNA 1</text>
<text x="412.60" y="1169.01" font-size="20.20" font-weight="normal" font-style="normal" fill="#70777b" text-anchor="start" transform="rotate(-90 412.60 1169.01)">sgRNA 2</text>
<line x1="128.10" y1="1035.90" x2="128.10" y2="1048.70" stroke="#111" stroke-width="3.3" stroke-linecap="butt"/>
<line x1="121.30" y1="1035.90" x2="134.90" y2="1035.90" stroke="#111" stroke-width="3.2" stroke-linecap="butt"/>
<line x1="121.30" y1="1048.70" x2="134.90" y2="1048.70" stroke="#111" stroke-width="3.2" stroke-linecap="butt"/>
<line x1="198.30" y1="902.70" x2="198.30" y2="928.00" stroke="#111" stroke-width="3.3" stroke-linecap="butt"/>
<line x1="190.90" y1="902.70" x2="205.70" y2="902.70" stroke="#111" stroke-width="3.2" stroke-linecap="butt"/>
<line x1="190.90" y1="928.00" x2="205.70" y2="928.00" stroke="#111" stroke-width="3.2" stroke-linecap="butt"/>
<line x1="268.90" y1="966.80" x2="268.90" y2="987.50" stroke="#111" stroke-width="3.3" stroke-linecap="butt"/>
<line x1="261.60" y1="966.80" x2="276.20" y2="966.80" stroke="#111" stroke-width="3.2" stroke-linecap="butt"/>
<line x1="261.60" y1="987.50" x2="276.20" y2="987.50" stroke="#111" stroke-width="3.2" stroke-linecap="butt"/>
<line x1="344.80" y1="1000.00" x2="344.80" y2="1013.70" stroke="#111" stroke-width="3.3" stroke-linecap="butt"/>
<line x1="337.60" y1="1000.00" x2="352.00" y2="1000.00" stroke="#111" stroke-width="3.2" stroke-linecap="butt"/>
<line x1="337.60" y1="1013.70" x2="352.00" y2="1013.70" stroke="#111" stroke-width="3.2" stroke-linecap="butt"/>
<line x1="409.60" y1="971.50" x2="409.60" y2="979.00" stroke="#111" stroke-width="3.3" stroke-linecap="butt"/>
<line x1="402.30" y1="971.50" x2="416.90" y2="971.50" stroke="#111" stroke-width="3.2" stroke-linecap="butt"/>
<line x1="402.30" y1="979.00" x2="416.90" y2="979.00" stroke="#111" stroke-width="3.2" stroke-linecap="butt"/>
<rect x="105.70" y="1027.70" width="5.00" height="5.60" fill="#111" rx="1.3"/>
<rect x="136.50" y="1048.70" width="5.00" height="5.60" fill="#111" rx="1.3"/>
<rect x="126.20" y="1040.70" width="5.00" height="5.60" fill="#111" rx="1.3"/>
<rect x="216.90" y="890.00" width="5.00" height="5.60" fill="#111" rx="1.3"/>
<rect x="216.90" y="913.30" width="5.00" height="5.60" fill="#111" rx="1.3"/>
<rect x="197.80" y="934.50" width="5.00" height="5.60" fill="#111" rx="1.3"/>
<rect x="283.70" y="953.90" width="5.00" height="5.60" fill="#111" rx="1.3"/>
<rect x="282.50" y="984.20" width="5.00" height="5.60" fill="#111" rx="1.3"/>
<rect x="280.10" y="985.80" width="5.00" height="5.60" fill="#111" rx="1.3"/>
<rect x="315.80" y="990.60" width="5.00" height="5.60" fill="#111" rx="1.3"/>
<rect x="320.00" y="1012.90" width="5.00" height="5.60" fill="#111" rx="1.3"/>
<rect x="353.50" y="1008.40" width="5.00" height="5.60" fill="#111" rx="1.3"/>
<rect x="414.10" y="965.50" width="5.00" height="5.60" fill="#111" rx="1.3"/>
<rect x="419.90" y="975.40" width="5.00" height="5.60" fill="#111" rx="1.3"/>
<rect x="400.00" y="975.20" width="5.00" height="5.60" fill="#111" rx="1.3"/>
<text x="185.57" y="892.00" font-size="21.80" font-weight="normal" font-style="normal" fill="#111" text-anchor="start">***</text>
<text x="260.57" y="956.30" font-size="21.80" font-weight="normal" font-style="normal" fill="#111" text-anchor="start">**</text>
<text x="341.27" y="992.60" font-size="21.80" font-weight="normal" font-style="normal" fill="#111" text-anchor="start">*</text>
<text x="396.67" y="968.40" font-size="21.80" font-weight="normal" font-style="normal" fill="#111" text-anchor="start">***</text>
<text x="102.99" y="862.00" font-size="26.20" font-weight="normal" font-style="normal" fill="#61686b" text-anchor="start">Ctrl</text>
<text x="195.61" y="862.00" font-size="26.20" font-weight="normal" font-style="italic" fill="#61686b" text-anchor="start">PTPN14</text>
<text x="339.22" y="862.00" font-size="26.40" font-weight="normal" font-style="italic" fill="#61686b" text-anchor="start">TET2</text>
<line x1="85.80" y1="825.00" x2="85.80" y2="1194.20" stroke="#111" stroke-width="3.7" stroke-linecap="butt"/>
<line x1="84.40" y1="1192.50" x2="459.60" y2="1192.50" stroke="#111" stroke-width="3.4" stroke-linecap="butt"/>
<text x="79.00" y="845.60" font-size="16.90" font-weight="normal" font-style="normal" fill="#7f8588" text-anchor="end">2.5</text>
<line x1="83.00" y1="841.80" x2="84.60" y2="841.80" stroke="#7f8588" stroke-width="1.5" stroke-linecap="butt"/>
<text x="79.00" y="912.42" font-size="16.90" font-weight="normal" font-style="normal" fill="#7f8588" text-anchor="end">2.0</text>
<line x1="83.00" y1="908.62" x2="84.60" y2="908.62" stroke="#7f8588" stroke-width="1.5" stroke-linecap="butt"/>
<text x="79.00" y="979.24" font-size="16.90" font-weight="normal" font-style="normal" fill="#7f8588" text-anchor="end">1.5</text>
<line x1="83.00" y1="975.44" x2="84.60" y2="975.44" stroke="#7f8588" stroke-width="1.5" stroke-linecap="butt"/>
<text x="79.00" y="1046.06" font-size="16.90" font-weight="normal" font-style="normal" fill="#7f8588" text-anchor="end">1.0</text>
<line x1="83.00" y1="1042.26" x2="84.60" y2="1042.26" stroke="#7f8588" stroke-width="1.5" stroke-linecap="butt"/>
<text x="79.00" y="1112.88" font-size="16.90" font-weight="normal" font-style="normal" fill="#7f8588" text-anchor="end">0.5</text>
<line x1="83.00" y1="1109.08" x2="84.60" y2="1109.08" stroke="#7f8588" stroke-width="1.5" stroke-linecap="butt"/>
<text x="79.00" y="1179.70" font-size="16.90" font-weight="normal" font-style="normal" fill="#7f8588" text-anchor="end">0.0</text>
<line x1="83.00" y1="1175.90" x2="84.60" y2="1175.90" stroke="#7f8588" stroke-width="1.5" stroke-linecap="butt"/>
<text x="48.40" y="1125.47" font-size="29.60" font-weight="normal" font-style="normal" fill="#111" text-anchor="start" transform="rotate(-90 48.40 1125.47)">Relative cell count</text>
<defs>
<filter id="cellA" x="-5%" y="-5%" width="110%" height="110%" color-interpolation-filters="sRGB">
<feTurbulence type="fractalNoise" baseFrequency="0.28" numOctaves="2" seed="7" result="n"/>
<feColorMatrix in="n" type="matrix" values="1.25 0 0 0 -0.10  1.25 0 0 0 -0.095  1.25 0 0 0 -0.09  0 0 0 0 1" result="g"/>
<feComposite in="g" in2="SourceAlpha" operator="in"/>
</filter>
<filter id="cellB" x="0" y="0" width="100%" height="100%" color-interpolation-filters="sRGB">
<feTurbulence type="fractalNoise" baseFrequency="0.3" numOctaves="2" seed="11" result="n"/>
<feColorMatrix in="n" type="matrix" values="2.0 0 0 0 -0.55  2.0 0 0 0 -0.55  2.0 0 0 0 -0.55  0 0 0 0 1" result="g0"/>
<feComponentTransfer in="g0" result="g"><feFuncR type="gamma" amplitude="0.72" exponent="0.55" offset="0.115"/><feFuncG type="gamma" amplitude="0.72" exponent="0.55" offset="0.12"/><feFuncB type="gamma" amplitude="0.72" exponent="0.55" offset="0.125"/></feComponentTransfer>
<feComposite in="g" in2="SourceAlpha" operator="in"/>
</filter>
<filter id="bl1" x="-20%" y="-20%" width="140%" height="140%"><feGaussianBlur stdDeviation="0.8"/></filter>
<filter id="bl3" x="-50%" y="-50%" width="200%" height="200%"><feGaussianBlur stdDeviation="3"/></filter>
<filter id="bl4" x="-50%" y="-50%" width="200%" height="200%"><feGaussianBlur stdDeviation="4.5"/></filter>
<filter id="bl6" x="-50%" y="-50%" width="200%" height="200%"><feGaussianBlur stdDeviation="6"/></filter>
<filter id="bl10" x="-50%" y="-50%" width="200%" height="200%"><feGaussianBlur stdDeviation="10"/></filter>
</defs>
<clipPath id="cpC"><rect x="156.1" y="1205.0" width="283.9" height="212.6"/></clipPath>
<g clip-path="url(#cpC)">
<rect x="156.10" y="1205.00" width="283.90" height="212.60" fill="#6c7073"/>
<path d="M330.8,1264.3 C332.6,1261.0 335.4,1254.5 338.4,1252.1 C341.5,1249.7 345.6,1249.7 349.2,1249.8 C352.7,1249.9 356.3,1252.5 359.9,1252.9 C363.5,1253.2 367.6,1251.5 370.6,1252.1 C373.7,1252.7 376.8,1254.4 378.3,1256.7 C379.8,1259.0 380.3,1262.6 379.8,1265.9 C379.3,1269.2 377.0,1273.0 375.2,1276.6 C373.4,1280.2 371.1,1284.5 369.1,1287.3 C367.0,1290.1 364.0,1291.2 363.0,1293.5 C361.9,1295.8 362.5,1297.8 363.0,1301.1 C363.5,1304.4 365.6,1309.8 366.0,1313.4 C366.4,1317.0 365.0,1318.5 365.3,1322.6 C365.5,1326.7 367.7,1332.8 367.6,1337.9 C367.4,1343.0 365.8,1348.6 364.5,1353.2 C363.2,1357.8 362.5,1361.9 359.9,1365.5 C357.3,1369.0 353.5,1371.9 349.2,1374.7 C344.8,1377.5 339.0,1380.8 333.9,1382.3 C328.7,1383.9 323.9,1383.9 318.5,1383.9 C313.2,1383.9 306.0,1383.3 301.7,1382.3 C297.3,1381.3 294.5,1380.5 292.5,1377.7 C290.4,1374.9 290.6,1370.6 289.4,1365.5 C288.3,1360.4 286.4,1352.2 285.6,1347.1 C284.8,1342.0 285.7,1337.9 284.8,1334.8 C283.9,1331.8 281.2,1331.8 280.2,1328.7 C279.2,1325.6 278.4,1320.0 278.7,1316.4 C279.0,1312.9 280.2,1310.1 281.8,1307.2 C283.3,1304.4 285.3,1301.9 287.9,1299.6 C290.4,1297.3 293.5,1295.5 297.1,1293.5 C300.7,1291.4 307.0,1290.1 309.3,1287.3 C311.6,1284.5 309.3,1278.6 310.9,1276.6 C312.4,1274.6 315.7,1275.8 318.5,1275.1 C321.3,1274.3 325.7,1273.8 327.7,1272.0 C329.8,1270.2 329.0,1267.7 330.8,1264.3 Z" fill="#fff" stroke="#e8e8e8" stroke-width="2.2" filter="url(#bl1)" opacity="0.85"/>
<path d="M330.8,1264.3 C332.6,1261.0 335.4,1254.5 338.4,1252.1 C341.5,1249.7 345.6,1249.7 349.2,1249.8 C352.7,1249.9 356.3,1252.5 359.9,1252.9 C363.5,1253.2 367.6,1251.5 370.6,1252.1 C373.7,1252.7 376.8,1254.4 378.3,1256.7 C379.8,1259.0 380.3,1262.6 379.8,1265.9 C379.3,1269.2 377.0,1273.0 375.2,1276.6 C373.4,1280.2 371.1,1284.5 369.1,1287.3 C367.0,1290.1 364.0,1291.2 363.0,1293.5 C361.9,1295.8 362.5,1297.8 363.0,1301.1 C363.5,1304.4 365.6,1309.8 366.0,1313.4 C366.4,1317.0 365.0,1318.5 365.3,1322.6 C365.5,1326.7 367.7,1332.8 367.6,1337.9 C367.4,1343.0 365.8,1348.6 364.5,1353.2 C363.2,1357.8 362.5,1361.9 359.9,1365.5 C357.3,1369.0 353.5,1371.9 349.2,1374.7 C344.8,1377.5 339.0,1380.8 333.9,1382.3 C328.7,1383.9 323.9,1383.9 318.5,1383.9 C313.2,1383.9 306.0,1383.3 301.7,1382.3 C297.3,1381.3 294.5,1380.5 292.5,1377.7 C290.4,1374.9 290.6,1370.6 289.4,1365.5 C288.3,1360.4 286.4,1352.2 285.6,1347.1 C284.8,1342.0 285.7,1337.9 284.8,1334.8 C283.9,1331.8 281.2,1331.8 280.2,1328.7 C279.2,1325.6 278.4,1320.0 278.7,1316.4 C279.0,1312.9 280.2,1310.1 281.8,1307.2 C283.3,1304.4 285.3,1301.9 287.9,1299.6 C290.4,1297.3 293.5,1295.5 297.1,1293.5 C300.7,1291.4 307.0,1290.1 309.3,1287.3 C311.6,1284.5 309.3,1278.6 310.9,1276.6 C312.4,1274.6 315.7,1275.8 318.5,1275.1 C321.3,1274.3 325.7,1273.8 327.7,1272.0 C329.8,1270.2 329.0,1267.7 330.8,1264.3 Z" fill="#888" filter="url(#cellA)"/>
<path d="M185.2,1219.9 C187.5,1216.1 191.6,1211.5 194.4,1209.2 C197.2,1206.9 198.5,1206.5 202.1,1206.1 C205.7,1205.7 213.3,1205.4 215.9,1206.9 C218.4,1208.4 218.7,1212.4 217.4,1215.3 C216.1,1218.3 210.5,1221.2 208.2,1224.5 C205.9,1227.8 203.9,1231.7 203.6,1235.2 C203.4,1238.8 206.2,1242.4 206.7,1246.0 C207.2,1249.5 207.7,1254.4 206.7,1256.7 C205.7,1259.0 203.4,1259.8 200.6,1259.8 C197.8,1259.8 192.9,1258.5 189.8,1256.7 C186.8,1254.9 182.9,1251.6 182.2,1249.0 C181.4,1246.5 185.5,1244.2 185.2,1241.4 C185.0,1238.6 180.6,1235.7 180.6,1232.2 C180.6,1228.6 182.9,1223.7 185.2,1219.9 Z" fill="#fff" stroke="#e8e8e8" stroke-width="2.2" filter="url(#bl1)" opacity="0.85"/>
<path d="M185.2,1219.9 C187.5,1216.1 191.6,1211.5 194.4,1209.2 C197.2,1206.9 198.5,1206.5 202.1,1206.1 C205.7,1205.7 213.3,1205.4 215.9,1206.9 C218.4,1208.4 218.7,1212.4 217.4,1215.3 C216.1,1218.3 210.5,1221.2 208.2,1224.5 C205.9,1227.8 203.9,1231.7 203.6,1235.2 C203.4,1238.8 206.2,1242.4 206.7,1246.0 C207.2,1249.5 207.7,1254.4 206.7,1256.7 C205.7,1259.0 203.4,1259.8 200.6,1259.8 C197.8,1259.8 192.9,1258.5 189.8,1256.7 C186.8,1254.9 182.9,1251.6 182.2,1249.0 C181.4,1246.5 185.5,1244.2 185.2,1241.4 C185.0,1238.6 180.6,1235.7 180.6,1232.2 C180.6,1228.6 182.9,1223.7 185.2,1219.9 Z" fill="#888" filter="url(#cellA)"/>
<path d="M229.7,1250.6 C230.7,1248.0 234.3,1243.3 237.3,1241.4 C240.4,1239.5 244.2,1238.8 248.1,1239.1 C251.9,1239.3 256.7,1241.2 260.3,1242.9 C263.9,1244.6 267.2,1246.2 269.5,1249.0 C271.8,1251.8 273.8,1256.4 274.1,1259.8 C274.4,1263.1 273.3,1266.5 271.0,1268.9 C268.7,1271.4 264.1,1273.5 260.3,1274.3 C256.5,1275.1 251.6,1273.9 248.1,1273.5 C244.5,1273.2 241.4,1271.5 238.9,1272.0 C236.3,1272.5 234.3,1274.8 232.7,1276.6 C231.2,1278.4 231.5,1281.1 229.7,1282.7 C227.9,1284.4 224.8,1286.4 222.0,1286.6 C219.2,1286.7 215.1,1285.4 212.8,1283.5 C210.5,1281.6 209.0,1277.8 208.2,1275.1 C207.5,1272.4 207.2,1269.6 208.2,1267.4 C209.2,1265.2 211.8,1263.1 214.3,1262.0 C216.9,1261.0 221.0,1260.9 223.5,1261.3 C226.1,1261.7 228.4,1265.1 229.7,1264.3 C230.9,1263.6 231.2,1259.0 231.2,1256.7 C231.2,1254.4 228.6,1253.1 229.7,1250.6 Z" fill="#fff" stroke="#e8e8e8" stroke-width="2.2" filter="url(#bl1)" opacity="0.85"/>
<path d="M229.7,1250.6 C230.7,1248.0 234.3,1243.3 237.3,1241.4 C240.4,1239.5 244.2,1238.8 248.1,1239.1 C251.9,1239.3 256.7,1241.2 260.3,1242.9 C263.9,1244.6 267.2,1246.2 269.5,1249.0 C271.8,1251.8 273.8,1256.4 274.1,1259.8 C274.4,1263.1 273.3,1266.5 271.0,1268.9 C268.7,1271.4 264.1,1273.5 260.3,1274.3 C256.5,1275.1 251.6,1273.9 248.1,1273.5 C244.5,1273.2 241.4,1271.5 238.9,1272.0 C236.3,1272.5 234.3,1274.8 232.7,1276.6 C231.2,1278.4 231.5,1281.1 229.7,1282.7 C227.9,1284.4 224.8,1286.4 222.0,1286.6 C219.2,1286.7 215.1,1285.4 212.8,1283.5 C210.5,1281.6 209.0,1277.8 208.2,1275.1 C207.5,1272.4 207.2,1269.6 208.2,1267.4 C209.2,1265.2 211.8,1263.1 214.3,1262.0 C216.9,1261.0 221.0,1260.9 223.5,1261.3 C226.1,1261.7 228.4,1265.1 229.7,1264.3 C230.9,1263.6 231.2,1259.0 231.2,1256.7 C231.2,1254.4 228.6,1253.1 229.7,1250.6 Z" fill="#888" filter="url(#cellA)"/>
<path d="M367.6,1224.5 C367.8,1222.2 369.9,1219.2 372.2,1216.9 C374.5,1214.6 377.8,1212.0 381.3,1210.7 C384.9,1209.4 390.0,1208.9 393.6,1209.2 C397.2,1209.4 400.9,1210.5 402.8,1212.3 C404.7,1214.0 405.9,1217.6 405.1,1219.9 C404.3,1222.2 401.4,1224.5 398.2,1226.0 C395.0,1227.6 389.5,1228.0 385.9,1229.1 C382.4,1230.3 379.3,1232.7 376.8,1232.9 C374.2,1233.2 372.2,1232.0 370.6,1230.6 C369.1,1229.2 367.3,1226.8 367.6,1224.5 Z" fill="#fff" stroke="#e8e8e8" stroke-width="2.2" filter="url(#bl1)" opacity="0.85"/>
<path d="M367.6,1224.5 C367.8,1222.2 369.9,1219.2 372.2,1216.9 C374.5,1214.6 377.8,1212.0 381.3,1210.7 C384.9,1209.4 390.0,1208.9 393.6,1209.2 C397.2,1209.4 400.9,1210.5 402.8,1212.3 C404.7,1214.0 405.9,1217.6 405.1,1219.9 C404.3,1222.2 401.4,1224.5 398.2,1226.0 C395.0,1227.6 389.5,1228.0 385.9,1229.1 C382.4,1230.3 379.3,1232.7 376.8,1232.9 C374.2,1233.2 372.2,1232.0 370.6,1230.6 C369.1,1229.2 367.3,1226.8 367.6,1224.5 Z" fill="#888" filter="url(#cellA)"/>
<path d="M200.6,1386.9 C201.1,1384.1 201.3,1380.0 203.6,1377.7 C205.9,1375.4 210.5,1374.4 214.3,1373.1 C218.2,1371.9 222.8,1371.3 226.6,1370.1 C230.4,1368.8 234.8,1367.5 237.3,1365.5 C239.9,1363.4 240.6,1357.8 241.9,1357.8 C243.2,1357.8 242.7,1363.7 245.0,1365.5 C247.3,1367.3 252.4,1367.3 255.7,1368.5 C259.0,1369.8 263.6,1371.1 264.9,1373.1 C266.2,1375.2 264.9,1378.2 263.4,1380.8 C261.8,1383.3 257.2,1385.6 255.7,1388.4 C254.2,1391.3 254.2,1395.3 254.2,1397.6 C254.2,1399.9 257.2,1402.0 255.7,1402.2 C254.2,1402.5 249.3,1398.9 245.0,1399.2 C240.6,1399.4 234.8,1402.6 229.7,1403.8 C224.6,1404.9 218.4,1406.3 214.3,1406.1 C210.3,1405.8 207.5,1404.2 205.2,1402.2 C202.9,1400.3 201.3,1397.1 200.6,1394.6 C199.8,1392.0 200.0,1389.7 200.6,1386.9 Z" fill="#fff" stroke="#e8e8e8" stroke-width="2.2" filter="url(#bl1)" opacity="0.85"/>
<path d="M200.6,1386.9 C201.1,1384.1 201.3,1380.0 203.6,1377.7 C205.9,1375.4 210.5,1374.4 214.3,1373.1 C218.2,1371.9 222.8,1371.3 226.6,1370.1 C230.4,1368.8 234.8,1367.5 237.3,1365.5 C239.9,1363.4 240.6,1357.8 241.9,1357.8 C243.2,1357.8 242.7,1363.7 245.0,1365.5 C247.3,1367.3 252.4,1367.3 255.7,1368.5 C259.0,1369.8 263.6,1371.1 264.9,1373.1 C266.2,1375.2 264.9,1378.2 263.4,1380.8 C261.8,1383.3 257.2,1385.6 255.7,1388.4 C254.2,1391.3 254.2,1395.3 254.2,1397.6 C254.2,1399.9 257.2,1402.0 255.7,1402.2 C254.2,1402.5 249.3,1398.9 245.0,1399.2 C240.6,1399.4 234.8,1402.6 229.7,1403.8 C224.6,1404.9 218.4,1406.3 214.3,1406.1 C210.3,1405.8 207.5,1404.2 205.2,1402.2 C202.9,1400.3 201.3,1397.1 200.6,1394.6 C199.8,1392.0 200.0,1389.7 200.6,1386.9 Z" fill="#888" filter="url(#cellA)"/>
<ellipse cx="287.9" cy="1313.4" rx="8.4" ry="8.4" fill="#fff" opacity="0.95" filter="url(#bl1)"/>
<ellipse cx="194.4" cy="1230.6" rx="9.2" ry="13.8" fill="#fff" opacity="0.9" filter="url(#bl1)"/>
<ellipse cx="248.1" cy="1252.1" rx="7.7" ry="6.1" fill="#fff" opacity="0.55" filter="url(#bl1)"/>
<ellipse cx="220.5" cy="1279.7" rx="6.1" ry="4.6" fill="#fff" opacity="0.5" filter="url(#bl1)"/>
<ellipse cx="375.2" cy="1223.0" rx="6.9" ry="6.1" fill="#fff" opacity="0.7" filter="url(#bl1)"/>
<ellipse cx="233.5" cy="1385.4" rx="6.1" ry="8.4" fill="#fff" opacity="0.75" filter="url(#bl1)"/>
<ellipse cx="260.3" cy="1376.2" rx="4.6" ry="6.1" fill="#fff" opacity="0.6" filter="url(#bl1)"/>
<ellipse cx="338.4" cy="1350.1" rx="6.1" ry="6.1" fill="#fff" opacity="0.35" filter="url(#bl1)"/>
<ellipse cx="355.3" cy="1305.7" rx="5.4" ry="5.4" fill="#fff" opacity="0.4" filter="url(#bl1)"/>
<ellipse cx="198.7" cy="1328.7" rx="3.4" ry="12.3" fill="#fff" opacity="0.85" filter="url(#bl1)"/>
<ellipse cx="226.3" cy="1315.7" rx="2.8" ry="4.6" fill="#fff" opacity="0.6" filter="url(#bl1)"/>
<ellipse cx="385.9" cy="1307.2" rx="6.4" ry="8.9" fill="#fff" opacity="0.8" filter="url(#bl1)"/>
<ellipse cx="422.7" cy="1373.1" rx="3.7" ry="2.8" fill="#fff" opacity="0.85" filter="url(#bl1)"/>
<ellipse cx="333.9" cy="1399.2" rx="3.4" ry="4.6" fill="#fff" opacity="0.5" filter="url(#bl1)"/>
<ellipse cx="333.9" cy="1226.0" rx="2.1" ry="10.7" fill="#fff" opacity="0.7" filter="url(#bl1)" transform="rotate(25 333.9 1226.0)"/>
<ellipse cx="291.0" cy="1209.2" rx="4.9" ry="3.7" fill="#fff" opacity="0.7" filter="url(#bl1)"/>
<ellipse cx="433.4" cy="1259.8" rx="6.1" ry="4.3" fill="#fff" opacity="0.7" filter="url(#bl1)"/>
<ellipse cx="436.5" cy="1209.2" rx="3.8" ry="6.1" fill="#fff" opacity="0.6" filter="url(#bl1)"/>
<ellipse cx="326.2" cy="1412.2" rx="8.4" ry="2.5" fill="#fff" opacity="0.55" filter="url(#bl1)"/>
<ellipse cx="315.5" cy="1410.7" rx="2.8" ry="2.8" fill="#fff" opacity="0.7" filter="url(#bl1)"/>
<ellipse cx="195.2" cy="1415.3" rx="4.6" ry="2.1" fill="#fff" opacity="0.45" filter="url(#bl1)"/>
<circle cx="271.80" cy="1378.18" r="2.14" fill="#333" filter="url(#bl1)"/>
<circle cx="302.14" cy="1253.93" r="1.23" fill="#333" filter="url(#bl1)"/>
<rect x="425.01" y="1409.59" width="14.55" height="7.35" fill="#222"/>
<rect x="426.24" y="1411.12" width="11.95" height="3.37" fill="#fff"/>
</g>
<clipPath id="cpP1"><rect x="483.3" y="987.0" width="282.8" height="211.9"/></clipPath>
<g clip-path="url(#cpP1)">
<rect x="483.30" y="987.00" width="282.80" height="211.90" fill="#8c8f90" filter="url(#cellB)"/>
<ellipse cx="615.0" cy="1032.2" rx="25.9" ry="19.8" fill="#3c3f41" opacity="0.16" filter="url(#bl6)"/>
<ellipse cx="554.1" cy="1079.4" rx="18.3" ry="12.2" fill="#3c3f41" opacity="0.16" filter="url(#bl6)"/>
<ellipse cx="660.6" cy="1108.3" rx="16.7" ry="13.7" fill="#3c3f41" opacity="0.16" filter="url(#bl6)"/>
<ellipse cx="727.6" cy="1007.9" rx="13.7" ry="10.7" fill="#3c3f41" opacity="0.14" filter="url(#bl6)"/>
<ellipse cx="584.5" cy="1149.4" rx="25.9" ry="19.8" fill="#3c3f41" opacity="0.14" filter="url(#bl6)"/>
<ellipse cx="500.8" cy="1176.8" rx="16.7" ry="18.3" fill="#3c3f41" opacity="0.10" filter="url(#bl6)"/>
<ellipse cx="575.4" cy="1073.3" rx="6.1" ry="18.3" fill="#3c3f41" opacity="0.16" filter="url(#bl6)"/>
<ellipse cx="523.7" cy="1004.8" rx="16.7" ry="13.7" fill="#fff" opacity="0.32" filter="url(#bl4)"/>
<ellipse cx="587.6" cy="1007.9" rx="13.7" ry="12.2" fill="#fff" opacity="0.32" filter="url(#bl4)"/>
<ellipse cx="528.2" cy="1045.9" rx="12.2" ry="9.1" fill="#fff" opacity="0.35" filter="url(#bl4)"/>
<ellipse cx="520.6" cy="1073.3" rx="13.7" ry="9.1" fill="#fff" opacity="0.28" filter="url(#bl4)"/>
<ellipse cx="615.0" cy="1076.4" rx="21.3" ry="12.2" fill="#fff" opacity="0.39" filter="url(#bl4)"/>
<ellipse cx="653.0" cy="1032.2" rx="13.7" ry="10.7" fill="#fff" opacity="0.28" filter="url(#bl4)"/>
<ellipse cx="736.7" cy="1045.9" rx="16.7" ry="15.2" fill="#fff" opacity="0.32" filter="url(#bl4)"/>
<ellipse cx="748.9" cy="1000.3" rx="12.2" ry="10.7" fill="#fff" opacity="0.28" filter="url(#bl4)"/>
<ellipse cx="535.8" cy="1108.3" rx="12.2" ry="10.7" fill="#fff" opacity="0.32" filter="url(#bl4)"/>
<ellipse cx="576.9" cy="1102.2" rx="7.6" ry="7.6" fill="#fff" opacity="0.28" filter="url(#bl4)"/>
<ellipse cx="691.1" cy="1108.3" rx="13.7" ry="10.7" fill="#fff" opacity="0.35" filter="url(#bl4)"/>
<ellipse cx="739.8" cy="1119.0" rx="15.2" ry="13.7" fill="#fff" opacity="0.35" filter="url(#bl4)"/>
<ellipse cx="619.5" cy="1134.2" rx="12.2" ry="9.1" fill="#fff" opacity="0.28" filter="url(#bl4)"/>
<ellipse cx="636.3" cy="1167.7" rx="8.4" ry="7.6" fill="#fff" opacity="0.56" filter="url(#bl4)"/>
<ellipse cx="619.5" cy="1184.4" rx="19.8" ry="13.7" fill="#fff" opacity="0.42" filter="url(#bl4)"/>
<ellipse cx="668.2" cy="1146.4" rx="13.7" ry="10.7" fill="#fff" opacity="0.28" filter="url(#bl4)"/>
<ellipse cx="729.1" cy="1157.0" rx="19.8" ry="16.7" fill="#fff" opacity="0.28" filter="url(#bl4)"/>
<ellipse cx="759.5" cy="1134.2" rx="9.1" ry="12.2" fill="#fff" opacity="0.32" filter="url(#bl4)"/>
<ellipse cx="564.7" cy="1053.5" rx="5.3" ry="6.8" fill="#fff" opacity="0.42" filter="url(#bl4)"/>
<path d="M482.6,1112.9 C484.8,1109.2 490.9,1117.6 496.3,1121.2 C501.6,1124.9 509.2,1130.8 514.5,1134.9 C519.9,1139.1 524.7,1141.9 528.2,1146.4 C531.8,1150.8 534.1,1156.0 535.8,1161.6 C537.6,1167.2 539.0,1174.3 538.9,1179.8 C538.7,1185.4 536.5,1191.5 535.1,1195.1 C533.7,1198.6 534.3,1200.1 530.5,1201.1 C526.7,1202.2 514.1,1202.9 512.2,1201.1 C510.3,1199.4 517.2,1194.3 519.1,1190.5 C521.0,1186.7 523.7,1182.6 523.7,1178.3 C523.7,1174.0 521.6,1168.7 519.1,1164.6 C516.6,1160.6 512.7,1156.8 508.4,1154.0 C504.1,1151.2 497.5,1149.7 493.2,1147.9 C488.9,1146.1 484.3,1149.1 482.6,1143.3 C480.8,1137.5 480.3,1116.6 482.6,1112.9 Z" fill="#6b6f72" stroke="#e4e4e4" stroke-width="2.0" filter="url(#bl1)"/>
<path d="M482.6,1112.9 C484.8,1109.2 490.9,1117.6 496.3,1121.2 C501.6,1124.9 509.2,1130.8 514.5,1134.9 C519.9,1139.1 524.7,1141.9 528.2,1146.4 C531.8,1150.8 534.1,1156.0 535.8,1161.6 C537.6,1167.2 539.0,1174.3 538.9,1179.8 C538.7,1185.4 536.5,1191.5 535.1,1195.1 C533.7,1198.6 534.3,1200.1 530.5,1201.1 C526.7,1202.2 514.1,1202.9 512.2,1201.1 C510.3,1199.4 517.2,1194.3 519.1,1190.5 C521.0,1186.7 523.7,1182.6 523.7,1178.3 C523.7,1174.0 521.6,1168.7 519.1,1164.6 C516.6,1160.6 512.7,1156.8 508.4,1154.0 C504.1,1151.2 497.5,1149.7 493.2,1147.9 C488.9,1146.1 484.3,1149.1 482.6,1143.3 C480.8,1137.5 480.3,1116.6 482.6,1112.9 Z" fill="#6b6f72"/>
<rect x="752.50" y="1190.70" width="12.60" height="7.20" fill="#2a2a2a"/>
<rect x="753.70" y="1192.30" width="10.20" height="3.20" fill="#fff"/>
</g>
<clipPath id="cpT1"><rect x="776.1" y="987.0" width="282.6" height="211.9"/></clipPath>
<g clip-path="url(#cpT1)">
<rect x="776.10" y="987.00" width="282.60" height="211.90" fill="#8c8f90" filter="url(#cellB)"/>
<ellipse cx="876.5" cy="1073.3" rx="19.8" ry="22.8" fill="#3c3f41" opacity="0.14" filter="url(#bl6)"/>
<ellipse cx="937.4" cy="1058.1" rx="22.8" ry="18.3" fill="#3c3f41" opacity="0.12" filter="url(#bl6)"/>
<ellipse cx="800.4" cy="1134.2" rx="22.8" ry="18.3" fill="#3c3f41" opacity="0.12" filter="url(#bl6)"/>
<ellipse cx="998.3" cy="1096.1" rx="18.3" ry="12.2" fill="#3c3f41" opacity="0.10" filter="url(#bl6)"/>
<ellipse cx="990.7" cy="1184.4" rx="30.4" ry="10.7" fill="#3c3f41" opacity="0.12" filter="url(#bl6)"/>
<ellipse cx="785.2" cy="1012.4" rx="9.1" ry="22.8" fill="#3c3f41" opacity="0.12" filter="url(#bl6)"/>
<ellipse cx="990.7" cy="1024.6" rx="32.0" ry="16.7" fill="#fff" opacity="0.42" filter="url(#bl4)"/>
<ellipse cx="952.6" cy="1126.6" rx="45.7" ry="28.9" fill="#fff" opacity="0.42" filter="url(#bl4)"/>
<ellipse cx="940.4" cy="1160.1" rx="18.3" ry="15.2" fill="#fff" opacity="0.42" filter="url(#bl4)"/>
<ellipse cx="849.1" cy="1154.0" rx="24.3" ry="13.7" fill="#fff" opacity="0.45" filter="url(#bl4)"/>
<ellipse cx="983.1" cy="1056.6" rx="6.8" ry="6.1" fill="#fff" opacity="0.56" filter="url(#bl4)"/>
<ellipse cx="797.4" cy="1049.0" rx="9.1" ry="9.1" fill="#fff" opacity="0.42" filter="url(#bl4)"/>
<ellipse cx="879.6" cy="1027.7" rx="6.8" ry="6.1" fill="#fff" opacity="0.42" filter="url(#bl4)"/>
<ellipse cx="1028.7" cy="1055.0" rx="9.1" ry="10.7" fill="#fff" opacity="0.42" filter="url(#bl4)"/>
<ellipse cx="911.5" cy="1004.8" rx="9.1" ry="6.1" fill="#fff" opacity="0.42" filter="url(#bl4)"/>
<ellipse cx="998.3" cy="1157.0" rx="15.2" ry="12.2" fill="#fff" opacity="0.21" filter="url(#bl4)"/>
<path d="M789.8,985.0 C793.8,982.5 814.6,982.3 820.2,985.0 C825.8,987.8 820.7,998.0 823.3,1001.8 C825.8,1005.6 831.6,1005.6 835.4,1007.9 C839.2,1010.2 841.8,1013.7 846.1,1015.5 C850.4,1017.3 855.7,1018.8 861.3,1018.5 C866.9,1018.3 874.2,1015.7 879.6,1014.0 C884.9,1012.2 888.7,1009.4 893.3,1007.9 C897.8,1006.3 902.4,1005.8 907.0,1004.8 C911.5,1003.8 919.1,1005.1 920.7,1001.8 C922.2,998.5 912.5,987.8 916.1,985.0 C919.6,982.3 938.4,983.3 942.0,985.0 C945.5,986.8 939.2,991.9 937.4,995.7 C935.6,999.5 933.9,1004.3 931.3,1007.9 C928.8,1011.4 926.2,1015.2 922.2,1017.0 C918.1,1018.8 912.0,1018.5 907.0,1018.5 C901.9,1018.5 896.8,1016.2 891.7,1017.0 C886.7,1017.8 882.6,1021.6 876.5,1023.1 C870.4,1024.6 860.0,1024.6 855.2,1026.1 C850.4,1027.7 849.4,1028.9 847.6,1032.2 C845.8,1035.5 846.1,1041.6 844.6,1045.9 C843.0,1050.2 840.3,1054.5 838.5,1058.1 C836.7,1061.6 834.2,1064.2 833.9,1067.2 C833.7,1070.3 834.9,1073.3 837.0,1076.4 C839.0,1079.4 842.8,1082.9 846.1,1085.5 C849.4,1088.0 853.7,1088.5 856.7,1091.6 C859.8,1094.6 861.6,1099.2 864.4,1103.7 C867.1,1108.3 870.9,1114.9 873.5,1119.0 C876.0,1123.0 878.1,1125.6 879.6,1128.1 C881.1,1130.6 883.1,1132.9 882.6,1134.2 C882.1,1135.5 879.1,1136.0 876.5,1135.7 C874.0,1135.5 870.9,1134.7 867.4,1132.7 C863.8,1130.6 859.3,1126.6 855.2,1123.5 C851.2,1120.5 846.6,1116.9 843.0,1114.4 C839.5,1111.9 837.7,1109.8 833.9,1108.3 C830.1,1106.8 824.8,1106.3 820.2,1105.3 C815.7,1104.3 811.1,1104.0 806.5,1102.2 C802.0,1100.4 796.9,1096.9 792.8,1094.6 C788.8,1092.3 785.3,1089.8 782.2,1088.5 C779.0,1087.3 775.2,1091.3 773.8,1087.0 C772.4,1082.7 771.4,1066.5 773.8,1062.7 C776.2,1058.9 784.1,1063.4 788.3,1064.2 C792.4,1064.9 796.1,1068.2 798.9,1067.2 C801.7,1066.2 803.7,1062.2 805.0,1058.1 C806.3,1054.0 806.5,1047.9 806.5,1042.9 C806.5,1037.8 805.5,1032.7 805.0,1027.7 C804.5,1022.6 805.0,1017.0 803.5,1012.4 C802.0,1007.9 798.2,1004.8 795.9,1000.3 C793.6,995.7 785.7,987.6 789.8,985.0 Z" fill="#6b6f72" stroke="#e4e4e4" stroke-width="2.0" filter="url(#bl1)"/>
<path d="M789.8,985.0 C793.8,982.5 814.6,982.3 820.2,985.0 C825.8,987.8 820.7,998.0 823.3,1001.8 C825.8,1005.6 831.6,1005.6 835.4,1007.9 C839.2,1010.2 841.8,1013.7 846.1,1015.5 C850.4,1017.3 855.7,1018.8 861.3,1018.5 C866.9,1018.3 874.2,1015.7 879.6,1014.0 C884.9,1012.2 888.7,1009.4 893.3,1007.9 C897.8,1006.3 902.4,1005.8 907.0,1004.8 C911.5,1003.8 919.1,1005.1 920.7,1001.8 C922.2,998.5 912.5,987.8 916.1,985.0 C919.6,982.3 938.4,983.3 942.0,985.0 C945.5,986.8 939.2,991.9 937.4,995.7 C935.6,999.5 933.9,1004.3 931.3,1007.9 C928.8,1011.4 926.2,1015.2 922.2,1017.0 C918.1,1018.8 912.0,1018.5 907.0,1018.5 C901.9,1018.5 896.8,1016.2 891.7,1017.0 C886.7,1017.8 882.6,1021.6 876.5,1023.1 C870.4,1024.6 860.0,1024.6 855.2,1026.1 C850.4,1027.7 849.4,1028.9 847.6,1032.2 C845.8,1035.5 846.1,1041.6 844.6,1045.9 C843.0,1050.2 840.3,1054.5 838.5,1058.1 C836.7,1061.6 834.2,1064.2 833.9,1067.2 C833.7,1070.3 834.9,1073.3 837.0,1076.4 C839.0,1079.4 842.8,1082.9 846.1,1085.5 C849.4,1088.0 853.7,1088.5 856.7,1091.6 C859.8,1094.6 861.6,1099.2 864.4,1103.7 C867.1,1108.3 870.9,1114.9 873.5,1119.0 C876.0,1123.0 878.1,1125.6 879.6,1128.1 C881.1,1130.6 883.1,1132.9 882.6,1134.2 C882.1,1135.5 879.1,1136.0 876.5,1135.7 C874.0,1135.5 870.9,1134.7 867.4,1132.7 C863.8,1130.6 859.3,1126.6 855.2,1123.5 C851.2,1120.5 846.6,1116.9 843.0,1114.4 C839.5,1111.9 837.7,1109.8 833.9,1108.3 C830.1,1106.8 824.8,1106.3 820.2,1105.3 C815.7,1104.3 811.1,1104.0 806.5,1102.2 C802.0,1100.4 796.9,1096.9 792.8,1094.6 C788.8,1092.3 785.3,1089.8 782.2,1088.5 C779.0,1087.3 775.2,1091.3 773.8,1087.0 C772.4,1082.7 771.4,1066.5 773.8,1062.7 C776.2,1058.9 784.1,1063.4 788.3,1064.2 C792.4,1064.9 796.1,1068.2 798.9,1067.2 C801.7,1066.2 803.7,1062.2 805.0,1058.1 C806.3,1054.0 806.5,1047.9 806.5,1042.9 C806.5,1037.8 805.5,1032.7 805.0,1027.7 C804.5,1022.6 805.0,1017.0 803.5,1012.4 C802.0,1007.9 798.2,1004.8 795.9,1000.3 C793.6,995.7 785.7,987.6 789.8,985.0 Z" fill="#6b6f72"/>
<path d="M963.3,985.0 C966.8,983.8 989.4,984.0 995.2,985.0 C1001.1,986.1 996.2,990.4 998.3,991.1 C1000.3,991.9 1003.9,989.6 1007.4,989.6 C1011.0,989.6 1016.3,989.6 1019.6,991.1 C1022.9,992.7 1027.2,996.5 1027.2,998.7 C1027.2,1001.0 1023.4,1003.8 1019.6,1004.8 C1015.8,1005.8 1009.4,1005.8 1004.4,1004.8 C999.3,1003.8 994.2,1000.8 989.1,998.7 C984.1,996.7 978.2,994.9 973.9,992.7 C969.6,990.4 959.7,986.3 963.3,985.0 Z" fill="#6b6f72" stroke="#e4e4e4" stroke-width="2.0" filter="url(#bl1)"/>
<path d="M963.3,985.0 C966.8,983.8 989.4,984.0 995.2,985.0 C1001.1,986.1 996.2,990.4 998.3,991.1 C1000.3,991.9 1003.9,989.6 1007.4,989.6 C1011.0,989.6 1016.3,989.6 1019.6,991.1 C1022.9,992.7 1027.2,996.5 1027.2,998.7 C1027.2,1001.0 1023.4,1003.8 1019.6,1004.8 C1015.8,1005.8 1009.4,1005.8 1004.4,1004.8 C999.3,1003.8 994.2,1000.8 989.1,998.7 C984.1,996.7 978.2,994.9 973.9,992.7 C969.6,990.4 959.7,986.3 963.3,985.0 Z" fill="#6b6f72"/>
<path d="M1060.7,1033.7 C1059.7,1008.9 1056.1,1038.3 1054.6,1042.9 C1053.1,1047.4 1052.6,1056.1 1051.5,1061.1 C1050.5,1066.2 1050.3,1071.3 1048.5,1073.3 C1046.7,1075.3 1041.9,1070.8 1040.9,1073.3 C1039.9,1075.8 1040.9,1083.5 1042.4,1088.5 C1043.9,1093.6 1047.7,1099.7 1050.0,1103.7 C1052.3,1107.8 1057.1,1108.8 1056.1,1112.9 C1055.1,1116.9 1047.0,1123.0 1043.9,1128.1 C1040.9,1133.2 1039.9,1138.5 1037.8,1143.3 C1035.8,1148.1 1032.8,1153.0 1031.8,1157.0 C1030.7,1161.1 1030.0,1164.4 1031.8,1167.7 C1033.5,1171.0 1039.1,1173.8 1042.4,1176.8 C1045.7,1179.8 1048.5,1183.4 1051.5,1185.9 C1054.6,1188.5 1059.1,1217.4 1060.7,1192.0 C1062.2,1166.6 1061.7,1058.6 1060.7,1033.7 Z" fill="#6b6f72" stroke="#e4e4e4" stroke-width="2.0" filter="url(#bl1)"/>
<path d="M1060.7,1033.7 C1059.7,1008.9 1056.1,1038.3 1054.6,1042.9 C1053.1,1047.4 1052.6,1056.1 1051.5,1061.1 C1050.5,1066.2 1050.3,1071.3 1048.5,1073.3 C1046.7,1075.3 1041.9,1070.8 1040.9,1073.3 C1039.9,1075.8 1040.9,1083.5 1042.4,1088.5 C1043.9,1093.6 1047.7,1099.7 1050.0,1103.7 C1052.3,1107.8 1057.1,1108.8 1056.1,1112.9 C1055.1,1116.9 1047.0,1123.0 1043.9,1128.1 C1040.9,1133.2 1039.9,1138.5 1037.8,1143.3 C1035.8,1148.1 1032.8,1153.0 1031.8,1157.0 C1030.7,1161.1 1030.0,1164.4 1031.8,1167.7 C1033.5,1171.0 1039.1,1173.8 1042.4,1176.8 C1045.7,1179.8 1048.5,1183.4 1051.5,1185.9 C1054.6,1188.5 1059.1,1217.4 1060.7,1192.0 C1062.2,1166.6 1061.7,1058.6 1060.7,1033.7 Z" fill="#6b6f72"/>
<path d="M841.5,1201.1 C833.4,1199.1 840.8,1192.3 843.0,1189.0 C845.3,1185.7 851.2,1183.4 855.2,1181.4 C859.3,1179.3 863.3,1177.3 867.4,1176.8 C871.5,1176.3 876.5,1177.0 879.6,1178.3 C882.6,1179.6 883.6,1180.6 885.7,1184.4 C887.7,1188.2 899.1,1198.4 891.7,1201.1 C884.4,1203.9 849.6,1203.2 841.5,1201.1 Z" fill="#6b6f72" stroke="#e4e4e4" stroke-width="2.0" filter="url(#bl1)"/>
<path d="M841.5,1201.1 C833.4,1199.1 840.8,1192.3 843.0,1189.0 C845.3,1185.7 851.2,1183.4 855.2,1181.4 C859.3,1179.3 863.3,1177.3 867.4,1176.8 C871.5,1176.3 876.5,1177.0 879.6,1178.3 C882.6,1179.6 883.6,1180.6 885.7,1184.4 C887.7,1188.2 899.1,1198.4 891.7,1201.1 C884.4,1203.9 849.6,1203.2 841.5,1201.1 Z" fill="#6b6f72"/>
<path d="M773.8,1169.2 C776.0,1165.6 782.8,1170.7 786.7,1172.2 C790.7,1173.8 794.3,1176.5 797.4,1178.3 C800.4,1180.1 804.5,1181.4 805.0,1182.9 C805.5,1184.4 803.2,1186.9 800.4,1187.4 C797.6,1188.0 791.8,1185.2 788.3,1185.9 C784.7,1186.7 781.5,1190.7 779.1,1192.0 C776.7,1193.3 774.7,1197.3 773.8,1193.5 C772.9,1189.7 771.6,1172.7 773.8,1169.2 Z" fill="#6b6f72" stroke="#e4e4e4" stroke-width="2.0" filter="url(#bl1)"/>
<path d="M773.8,1169.2 C776.0,1165.6 782.8,1170.7 786.7,1172.2 C790.7,1173.8 794.3,1176.5 797.4,1178.3 C800.4,1180.1 804.5,1181.4 805.0,1182.9 C805.5,1184.4 803.2,1186.9 800.4,1187.4 C797.6,1188.0 791.8,1185.2 788.3,1185.9 C784.7,1186.7 781.5,1190.7 779.1,1192.0 C776.7,1193.3 774.7,1197.3 773.8,1193.5 C772.9,1189.7 771.6,1172.7 773.8,1169.2 Z" fill="#6b6f72"/>
<path d="M820.2,1032.2 C821.7,1029.4 825.5,1026.9 827.8,1026.1 C830.1,1025.4 833.4,1025.4 833.9,1027.7 C834.4,1029.9 831.9,1035.8 830.9,1039.8 C829.9,1043.9 828.8,1048.5 827.8,1052.0 C826.8,1055.6 825.8,1061.1 824.8,1061.1 C823.8,1061.1 822.8,1055.0 821.7,1052.0 C820.7,1049.0 819.0,1046.2 818.7,1042.9 C818.4,1039.6 818.7,1035.0 820.2,1032.2 Z" fill="#fff" stroke="#e8e8e8" stroke-width="1.6" filter="url(#bl1)" opacity="0.8"/>
<path d="M820.2,1032.2 C821.7,1029.4 825.5,1026.9 827.8,1026.1 C830.1,1025.4 833.4,1025.4 833.9,1027.7 C834.4,1029.9 831.9,1035.8 830.9,1039.8 C829.9,1043.9 828.8,1048.5 827.8,1052.0 C826.8,1055.6 825.8,1061.1 824.8,1061.1 C823.8,1061.1 822.8,1055.0 821.7,1052.0 C820.7,1049.0 819.0,1046.2 818.7,1042.9 C818.4,1039.6 818.7,1035.0 820.2,1032.2 Z" fill="#888" filter="url(#cellA)"/>
<path d="M870.4,1185.9 C871.5,1183.6 874.5,1181.4 876.5,1181.4 C878.6,1181.4 881.9,1183.6 882.6,1185.9 C883.4,1188.2 882.4,1192.5 881.1,1195.1 C879.8,1197.6 876.8,1201.1 875.0,1201.1 C873.2,1201.1 871.2,1197.6 870.4,1195.1 C869.7,1192.5 869.4,1188.2 870.4,1185.9 Z" fill="#fff" stroke="#e8e8e8" stroke-width="1.6" filter="url(#bl1)" opacity="0.8"/>
<path d="M870.4,1185.9 C871.5,1183.6 874.5,1181.4 876.5,1181.4 C878.6,1181.4 881.9,1183.6 882.6,1185.9 C883.4,1188.2 882.4,1192.5 881.1,1195.1 C879.8,1197.6 876.8,1201.1 875.0,1201.1 C873.2,1201.1 871.2,1197.6 870.4,1195.1 C869.7,1192.5 869.4,1188.2 870.4,1185.9 Z" fill="#888" filter="url(#cellA)"/>
<rect x="1045.10" y="1190.70" width="12.60" height="7.20" fill="#2a2a2a"/>
<rect x="1046.30" y="1192.30" width="10.20" height="3.20" fill="#fff"/>
</g>
<clipPath id="cpP2"><rect x="483.3" y="1205.2" width="282.8" height="211.9"/></clipPath>
<g clip-path="url(#cpP2)">
<rect x="483.30" y="1205.20" width="282.80" height="211.90" fill="#8c8f90" filter="url(#cellB)"/>
<ellipse cx="615.0" cy="1250.4" rx="25.9" ry="19.8" fill="#3c3f41" opacity="0.16" filter="url(#bl6)"/>
<ellipse cx="554.1" cy="1297.6" rx="18.3" ry="12.2" fill="#3c3f41" opacity="0.16" filter="url(#bl6)"/>
<ellipse cx="660.6" cy="1326.5" rx="16.7" ry="13.7" fill="#3c3f41" opacity="0.16" filter="url(#bl6)"/>
<ellipse cx="727.6" cy="1226.1" rx="13.7" ry="10.7" fill="#3c3f41" opacity="0.14" filter="url(#bl6)"/>
<ellipse cx="584.5" cy="1367.6" rx="25.9" ry="19.8" fill="#3c3f41" opacity="0.14" filter="url(#bl6)"/>
<ellipse cx="500.8" cy="1395.0" rx="16.7" ry="18.3" fill="#3c3f41" opacity="0.10" filter="url(#bl6)"/>
<ellipse cx="575.4" cy="1291.5" rx="6.1" ry="18.3" fill="#3c3f41" opacity="0.16" filter="url(#bl6)"/>
<ellipse cx="523.7" cy="1223.0" rx="16.7" ry="13.7" fill="#fff" opacity="0.32" filter="url(#bl4)"/>
<ellipse cx="587.6" cy="1226.1" rx="13.7" ry="12.2" fill="#fff" opacity="0.32" filter="url(#bl4)"/>
<ellipse cx="528.2" cy="1264.1" rx="12.2" ry="9.1" fill="#fff" opacity="0.35" filter="url(#bl4)"/>
<ellipse cx="520.6" cy="1291.5" rx="13.7" ry="9.1" fill="#fff" opacity="0.28" filter="url(#bl4)"/>
<ellipse cx="615.0" cy="1294.6" rx="21.3" ry="12.2" fill="#fff" opacity="0.39" filter="url(#bl4)"/>
<ellipse cx="653.0" cy="1250.4" rx="13.7" ry="10.7" fill="#fff" opacity="0.28" filter="url(#bl4)"/>
<ellipse cx="736.7" cy="1264.1" rx="16.7" ry="15.2" fill="#fff" opacity="0.32" filter="url(#bl4)"/>
<ellipse cx="748.9" cy="1218.5" rx="12.2" ry="10.7" fill="#fff" opacity="0.28" filter="url(#bl4)"/>
<ellipse cx="535.8" cy="1326.5" rx="12.2" ry="10.7" fill="#fff" opacity="0.32" filter="url(#bl4)"/>
<ellipse cx="576.9" cy="1320.4" rx="7.6" ry="7.6" fill="#fff" opacity="0.28" filter="url(#bl4)"/>
<ellipse cx="691.1" cy="1326.5" rx="13.7" ry="10.7" fill="#fff" opacity="0.35" filter="url(#bl4)"/>
<ellipse cx="739.8" cy="1337.2" rx="15.2" ry="13.7" fill="#fff" opacity="0.35" filter="url(#bl4)"/>
<ellipse cx="619.5" cy="1352.4" rx="12.2" ry="9.1" fill="#fff" opacity="0.28" filter="url(#bl4)"/>
<ellipse cx="636.3" cy="1385.9" rx="8.4" ry="7.6" fill="#fff" opacity="0.56" filter="url(#bl4)"/>
<ellipse cx="619.5" cy="1402.6" rx="19.8" ry="13.7" fill="#fff" opacity="0.42" filter="url(#bl4)"/>
<ellipse cx="668.2" cy="1364.6" rx="13.7" ry="10.7" fill="#fff" opacity="0.28" filter="url(#bl4)"/>
<ellipse cx="729.1" cy="1375.2" rx="19.8" ry="16.7" fill="#fff" opacity="0.28" filter="url(#bl4)"/>
<ellipse cx="759.5" cy="1352.4" rx="9.1" ry="12.2" fill="#fff" opacity="0.32" filter="url(#bl4)"/>
<ellipse cx="564.7" cy="1271.7" rx="5.3" ry="6.8" fill="#fff" opacity="0.42" filter="url(#bl4)"/>
<path d="M482.6,1331.1 C484.8,1327.4 490.9,1335.8 496.3,1339.4 C501.6,1343.1 509.2,1349.0 514.5,1353.1 C519.9,1357.3 524.7,1360.1 528.2,1364.6 C531.8,1369.0 534.1,1374.2 535.8,1379.8 C537.6,1385.4 539.0,1392.5 538.9,1398.0 C538.7,1403.6 536.5,1409.7 535.1,1413.3 C533.7,1416.8 534.3,1418.3 530.5,1419.3 C526.7,1420.4 514.1,1421.1 512.2,1419.3 C510.3,1417.6 517.2,1412.5 519.1,1408.7 C521.0,1404.9 523.7,1400.8 523.7,1396.5 C523.7,1392.2 521.6,1386.9 519.1,1382.8 C516.6,1378.8 512.7,1375.0 508.4,1372.2 C504.1,1369.4 497.5,1367.9 493.2,1366.1 C488.9,1364.3 484.3,1367.3 482.6,1361.5 C480.8,1355.7 480.3,1334.8 482.6,1331.1 Z" fill="#6b6f72" stroke="#e4e4e4" stroke-width="2.0" filter="url(#bl1)"/>
<path d="M482.6,1331.1 C484.8,1327.4 490.9,1335.8 496.3,1339.4 C501.6,1343.1 509.2,1349.0 514.5,1353.1 C519.9,1357.3 524.7,1360.1 528.2,1364.6 C531.8,1369.0 534.1,1374.2 535.8,1379.8 C537.6,1385.4 539.0,1392.5 538.9,1398.0 C538.7,1403.6 536.5,1409.7 535.1,1413.3 C533.7,1416.8 534.3,1418.3 530.5,1419.3 C526.7,1420.4 514.1,1421.1 512.2,1419.3 C510.3,1417.6 517.2,1412.5 519.1,1408.7 C521.0,1404.9 523.7,1400.8 523.7,1396.5 C523.7,1392.2 521.6,1386.9 519.1,1382.8 C516.6,1378.8 512.7,1375.0 508.4,1372.2 C504.1,1369.4 497.5,1367.9 493.2,1366.1 C488.9,1364.3 484.3,1367.3 482.6,1361.5 C480.8,1355.7 480.3,1334.8 482.6,1331.1 Z" fill="#6b6f72"/>
<rect x="752.50" y="1408.90" width="12.60" height="7.20" fill="#2a2a2a"/>
<rect x="753.70" y="1410.50" width="10.20" height="3.20" fill="#fff"/>
</g>
<clipPath id="cpT2"><rect x="776.1" y="1205.2" width="282.6" height="211.9"/></clipPath>
<g clip-path="url(#cpT2)">
<rect x="776.10" y="1205.20" width="282.60" height="211.90" fill="#8c8f90" filter="url(#cellB)"/>
<ellipse cx="876.5" cy="1291.5" rx="19.8" ry="22.8" fill="#3c3f41" opacity="0.14" filter="url(#bl6)"/>
<ellipse cx="937.4" cy="1276.3" rx="22.8" ry="18.3" fill="#3c3f41" opacity="0.12" filter="url(#bl6)"/>
<ellipse cx="800.4" cy="1352.4" rx="22.8" ry="18.3" fill="#3c3f41" opacity="0.12" filter="url(#bl6)"/>
<ellipse cx="998.3" cy="1314.3" rx="18.3" ry="12.2" fill="#3c3f41" opacity="0.10" filter="url(#bl6)"/>
<ellipse cx="990.7" cy="1402.6" rx="30.4" ry="10.7" fill="#3c3f41" opacity="0.12" filter="url(#bl6)"/>
<ellipse cx="785.2" cy="1230.6" rx="9.1" ry="22.8" fill="#3c3f41" opacity="0.12" filter="url(#bl6)"/>
<ellipse cx="990.7" cy="1242.8" rx="32.0" ry="16.7" fill="#fff" opacity="0.42" filter="url(#bl4)"/>
<ellipse cx="952.6" cy="1344.8" rx="45.7" ry="28.9" fill="#fff" opacity="0.42" filter="url(#bl4)"/>
<ellipse cx="940.4" cy="1378.3" rx="18.3" ry="15.2" fill="#fff" opacity="0.42" filter="url(#bl4)"/>
<ellipse cx="849.1" cy="1372.2" rx="24.3" ry="13.7" fill="#fff" opacity="0.45" filter="url(#bl4)"/>
<ellipse cx="983.1" cy="1274.8" rx="6.8" ry="6.1" fill="#fff" opacity="0.56" filter="url(#bl4)"/>
<ellipse cx="797.4" cy="1267.2" rx="9.1" ry="9.1" fill="#fff" opacity="0.42" filter="url(#bl4)"/>
<ellipse cx="879.6" cy="1245.9" rx="6.8" ry="6.1" fill="#fff" opacity="0.42" filter="url(#bl4)"/>
<ellipse cx="1028.7" cy="1273.2" rx="9.1" ry="10.7" fill="#fff" opacity="0.42" filter="url(#bl4)"/>
<ellipse cx="911.5" cy="1223.0" rx="9.1" ry="6.1" fill="#fff" opacity="0.42" filter="url(#bl4)"/>
<ellipse cx="998.3" cy="1375.2" rx="15.2" ry="12.2" fill="#fff" opacity="0.21" filter="url(#bl4)"/>
<path d="M789.8,1203.2 C793.8,1200.7 814.6,1200.5 820.2,1203.2 C825.8,1206.0 820.7,1216.2 823.3,1220.0 C825.8,1223.8 831.6,1223.8 835.4,1226.1 C839.2,1228.4 841.8,1231.9 846.1,1233.7 C850.4,1235.5 855.7,1237.0 861.3,1236.7 C866.9,1236.5 874.2,1233.9 879.6,1232.2 C884.9,1230.4 888.7,1227.6 893.3,1226.1 C897.8,1224.5 902.4,1224.0 907.0,1223.0 C911.5,1222.0 919.1,1223.3 920.7,1220.0 C922.2,1216.7 912.5,1206.0 916.1,1203.2 C919.6,1200.5 938.4,1201.5 942.0,1203.2 C945.5,1205.0 939.2,1210.1 937.4,1213.9 C935.6,1217.7 933.9,1222.5 931.3,1226.1 C928.8,1229.6 926.2,1233.4 922.2,1235.2 C918.1,1237.0 912.0,1236.7 907.0,1236.7 C901.9,1236.7 896.8,1234.4 891.7,1235.2 C886.7,1236.0 882.6,1239.8 876.5,1241.3 C870.4,1242.8 860.0,1242.8 855.2,1244.3 C850.4,1245.9 849.4,1247.1 847.6,1250.4 C845.8,1253.7 846.1,1259.8 844.6,1264.1 C843.0,1268.4 840.3,1272.7 838.5,1276.3 C836.7,1279.8 834.2,1282.4 833.9,1285.4 C833.7,1288.5 834.9,1291.5 837.0,1294.6 C839.0,1297.6 842.8,1301.1 846.1,1303.7 C849.4,1306.2 853.7,1306.7 856.7,1309.8 C859.8,1312.8 861.6,1317.4 864.4,1321.9 C867.1,1326.5 870.9,1333.1 873.5,1337.2 C876.0,1341.2 878.1,1343.8 879.6,1346.3 C881.1,1348.8 883.1,1351.1 882.6,1352.4 C882.1,1353.7 879.1,1354.2 876.5,1353.9 C874.0,1353.7 870.9,1352.9 867.4,1350.9 C863.8,1348.8 859.3,1344.8 855.2,1341.7 C851.2,1338.7 846.6,1335.1 843.0,1332.6 C839.5,1330.1 837.7,1328.0 833.9,1326.5 C830.1,1325.0 824.8,1324.5 820.2,1323.5 C815.7,1322.5 811.1,1322.2 806.5,1320.4 C802.0,1318.6 796.9,1315.1 792.8,1312.8 C788.8,1310.5 785.3,1308.0 782.2,1306.7 C779.0,1305.5 775.2,1309.5 773.8,1305.2 C772.4,1300.9 771.4,1284.7 773.8,1280.9 C776.2,1277.1 784.1,1281.6 788.3,1282.4 C792.4,1283.1 796.1,1286.4 798.9,1285.4 C801.7,1284.4 803.7,1280.4 805.0,1276.3 C806.3,1272.2 806.5,1266.1 806.5,1261.1 C806.5,1256.0 805.5,1250.9 805.0,1245.9 C804.5,1240.8 805.0,1235.2 803.5,1230.6 C802.0,1226.1 798.2,1223.0 795.9,1218.5 C793.6,1213.9 785.7,1205.8 789.8,1203.2 Z" fill="#6b6f72" stroke="#e4e4e4" stroke-width="2.0" filter="url(#bl1)"/>
<path d="M789.8,1203.2 C793.8,1200.7 814.6,1200.5 820.2,1203.2 C825.8,1206.0 820.7,1216.2 823.3,1220.0 C825.8,1223.8 831.6,1223.8 835.4,1226.1 C839.2,1228.4 841.8,1231.9 846.1,1233.7 C850.4,1235.5 855.7,1237.0 861.3,1236.7 C866.9,1236.5 874.2,1233.9 879.6,1232.2 C884.9,1230.4 888.7,1227.6 893.3,1226.1 C897.8,1224.5 902.4,1224.0 907.0,1223.0 C911.5,1222.0 919.1,1223.3 920.7,1220.0 C922.2,1216.7 912.5,1206.0 916.1,1203.2 C919.6,1200.5 938.4,1201.5 942.0,1203.2 C945.5,1205.0 939.2,1210.1 937.4,1213.9 C935.6,1217.7 933.9,1222.5 931.3,1226.1 C928.8,1229.6 926.2,1233.4 922.2,1235.2 C918.1,1237.0 912.0,1236.7 907.0,1236.7 C901.9,1236.7 896.8,1234.4 891.7,1235.2 C886.7,1236.0 882.6,1239.8 876.5,1241.3 C870.4,1242.8 860.0,1242.8 855.2,1244.3 C850.4,1245.9 849.4,1247.1 847.6,1250.4 C845.8,1253.7 846.1,1259.8 844.6,1264.1 C843.0,1268.4 840.3,1272.7 838.5,1276.3 C836.7,1279.8 834.2,1282.4 833.9,1285.4 C833.7,1288.5 834.9,1291.5 837.0,1294.6 C839.0,1297.6 842.8,1301.1 846.1,1303.7 C849.4,1306.2 853.7,1306.7 856.7,1309.8 C859.8,1312.8 861.6,1317.4 864.4,1321.9 C867.1,1326.5 870.9,1333.1 873.5,1337.2 C876.0,1341.2 878.1,1343.8 879.6,1346.3 C881.1,1348.8 883.1,1351.1 882.6,1352.4 C882.1,1353.7 879.1,1354.2 876.5,1353.9 C874.0,1353.7 870.9,1352.9 867.4,1350.9 C863.8,1348.8 859.3,1344.8 855.2,1341.7 C851.2,1338.7 846.6,1335.1 843.0,1332.6 C839.5,1330.1 837.7,1328.0 833.9,1326.5 C830.1,1325.0 824.8,1324.5 820.2,1323.5 C815.7,1322.5 811.1,1322.2 806.5,1320.4 C802.0,1318.6 796.9,1315.1 792.8,1312.8 C788.8,1310.5 785.3,1308.0 782.2,1306.7 C779.0,1305.5 775.2,1309.5 773.8,1305.2 C772.4,1300.9 771.4,1284.7 773.8,1280.9 C776.2,1277.1 784.1,1281.6 788.3,1282.4 C792.4,1283.1 796.1,1286.4 798.9,1285.4 C801.7,1284.4 803.7,1280.4 805.0,1276.3 C806.3,1272.2 806.5,1266.1 806.5,1261.1 C806.5,1256.0 805.5,1250.9 805.0,1245.9 C804.5,1240.8 805.0,1235.2 803.5,1230.6 C802.0,1226.1 798.2,1223.0 795.9,1218.5 C793.6,1213.9 785.7,1205.8 789.8,1203.2 Z" fill="#6b6f72"/>
<path d="M963.3,1203.2 C966.8,1202.0 989.4,1202.2 995.2,1203.2 C1001.1,1204.3 996.2,1208.6 998.3,1209.3 C1000.3,1210.1 1003.9,1207.8 1007.4,1207.8 C1011.0,1207.8 1016.3,1207.8 1019.6,1209.3 C1022.9,1210.9 1027.2,1214.7 1027.2,1216.9 C1027.2,1219.2 1023.4,1222.0 1019.6,1223.0 C1015.8,1224.0 1009.4,1224.0 1004.4,1223.0 C999.3,1222.0 994.2,1219.0 989.1,1216.9 C984.1,1214.9 978.2,1213.1 973.9,1210.9 C969.6,1208.6 959.7,1204.5 963.3,1203.2 Z" fill="#6b6f72" stroke="#e4e4e4" stroke-width="2.0" filter="url(#bl1)"/>
<path d="M963.3,1203.2 C966.8,1202.0 989.4,1202.2 995.2,1203.2 C1001.1,1204.3 996.2,1208.6 998.3,1209.3 C1000.3,1210.1 1003.9,1207.8 1007.4,1207.8 C1011.0,1207.8 1016.3,1207.8 1019.6,1209.3 C1022.9,1210.9 1027.2,1214.7 1027.2,1216.9 C1027.2,1219.2 1023.4,1222.0 1019.6,1223.0 C1015.8,1224.0 1009.4,1224.0 1004.4,1223.0 C999.3,1222.0 994.2,1219.0 989.1,1216.9 C984.1,1214.9 978.2,1213.1 973.9,1210.9 C969.6,1208.6 959.7,1204.5 963.3,1203.2 Z" fill="#6b6f72"/>
<path d="M1060.7,1251.9 C1059.7,1227.1 1056.1,1256.5 1054.6,1261.1 C1053.1,1265.6 1052.6,1274.3 1051.5,1279.3 C1050.5,1284.4 1050.3,1289.5 1048.5,1291.5 C1046.7,1293.5 1041.9,1289.0 1040.9,1291.5 C1039.9,1294.0 1040.9,1301.7 1042.4,1306.7 C1043.9,1311.8 1047.7,1317.9 1050.0,1321.9 C1052.3,1326.0 1057.1,1327.0 1056.1,1331.1 C1055.1,1335.1 1047.0,1341.2 1043.9,1346.3 C1040.9,1351.4 1039.9,1356.7 1037.8,1361.5 C1035.8,1366.3 1032.8,1371.2 1031.8,1375.2 C1030.7,1379.3 1030.0,1382.6 1031.8,1385.9 C1033.5,1389.2 1039.1,1392.0 1042.4,1395.0 C1045.7,1398.0 1048.5,1401.6 1051.5,1404.1 C1054.6,1406.7 1059.1,1435.6 1060.7,1410.2 C1062.2,1384.8 1061.7,1276.8 1060.7,1251.9 Z" fill="#6b6f72" stroke="#e4e4e4" stroke-width="2.0" filter="url(#bl1)"/>
<path d="M1060.7,1251.9 C1059.7,1227.1 1056.1,1256.5 1054.6,1261.1 C1053.1,1265.6 1052.6,1274.3 1051.5,1279.3 C1050.5,1284.4 1050.3,1289.5 1048.5,1291.5 C1046.7,1293.5 1041.9,1289.0 1040.9,1291.5 C1039.9,1294.0 1040.9,1301.7 1042.4,1306.7 C1043.9,1311.8 1047.7,1317.9 1050.0,1321.9 C1052.3,1326.0 1057.1,1327.0 1056.1,1331.1 C1055.1,1335.1 1047.0,1341.2 1043.9,1346.3 C1040.9,1351.4 1039.9,1356.7 1037.8,1361.5 C1035.8,1366.3 1032.8,1371.2 1031.8,1375.2 C1030.7,1379.3 1030.0,1382.6 1031.8,1385.9 C1033.5,1389.2 1039.1,1392.0 1042.4,1395.0 C1045.7,1398.0 1048.5,1401.6 1051.5,1404.1 C1054.6,1406.7 1059.1,1435.6 1060.7,1410.2 C1062.2,1384.8 1061.7,1276.8 1060.7,1251.9 Z" fill="#6b6f72"/>
<path d="M841.5,1419.3 C833.4,1417.3 840.8,1410.5 843.0,1407.2 C845.3,1403.9 851.2,1401.6 855.2,1399.6 C859.3,1397.5 863.3,1395.5 867.4,1395.0 C871.5,1394.5 876.5,1395.2 879.6,1396.5 C882.6,1397.8 883.6,1398.8 885.7,1402.6 C887.7,1406.4 899.1,1416.6 891.7,1419.3 C884.4,1422.1 849.6,1421.4 841.5,1419.3 Z" fill="#6b6f72" stroke="#e4e4e4" stroke-width="2.0" filter="url(#bl1)"/>
<path d="M841.5,1419.3 C833.4,1417.3 840.8,1410.5 843.0,1407.2 C845.3,1403.9 851.2,1401.6 855.2,1399.6 C859.3,1397.5 863.3,1395.5 867.4,1395.0 C871.5,1394.5 876.5,1395.2 879.6,1396.5 C882.6,1397.8 883.6,1398.8 885.7,1402.6 C887.7,1406.4 899.1,1416.6 891.7,1419.3 C884.4,1422.1 849.6,1421.4 841.5,1419.3 Z" fill="#6b6f72"/>
<path d="M773.8,1387.4 C776.0,1383.8 782.8,1388.9 786.7,1390.4 C790.7,1392.0 794.3,1394.7 797.4,1396.5 C800.4,1398.3 804.5,1399.6 805.0,1401.1 C805.5,1402.6 803.2,1405.1 800.4,1405.6 C797.6,1406.2 791.8,1403.4 788.3,1404.1 C784.7,1404.9 781.5,1408.9 779.1,1410.2 C776.7,1411.5 774.7,1415.5 773.8,1411.7 C772.9,1407.9 771.6,1390.9 773.8,1387.4 Z" fill="#6b6f72" stroke="#e4e4e4" stroke-width="2.0" filter="url(#bl1)"/>
<path d="M773.8,1387.4 C776.0,1383.8 782.8,1388.9 786.7,1390.4 C790.7,1392.0 794.3,1394.7 797.4,1396.5 C800.4,1398.3 804.5,1399.6 805.0,1401.1 C805.5,1402.6 803.2,1405.1 800.4,1405.6 C797.6,1406.2 791.8,1403.4 788.3,1404.1 C784.7,1404.9 781.5,1408.9 779.1,1410.2 C776.7,1411.5 774.7,1415.5 773.8,1411.7 C772.9,1407.9 771.6,1390.9 773.8,1387.4 Z" fill="#6b6f72"/>
<path d="M820.2,1250.4 C821.7,1247.6 825.5,1245.1 827.8,1244.3 C830.1,1243.6 833.4,1243.6 833.9,1245.9 C834.4,1248.1 831.9,1254.0 830.9,1258.0 C829.9,1262.1 828.8,1266.7 827.8,1270.2 C826.8,1273.8 825.8,1279.3 824.8,1279.3 C823.8,1279.3 822.8,1273.2 821.7,1270.2 C820.7,1267.2 819.0,1264.4 818.7,1261.1 C818.4,1257.8 818.7,1253.2 820.2,1250.4 Z" fill="#fff" stroke="#e8e8e8" stroke-width="1.6" filter="url(#bl1)" opacity="0.8"/>
<path d="M820.2,1250.4 C821.7,1247.6 825.5,1245.1 827.8,1244.3 C830.1,1243.6 833.4,1243.6 833.9,1245.9 C834.4,1248.1 831.9,1254.0 830.9,1258.0 C829.9,1262.1 828.8,1266.7 827.8,1270.2 C826.8,1273.8 825.8,1279.3 824.8,1279.3 C823.8,1279.3 822.8,1273.2 821.7,1270.2 C820.7,1267.2 819.0,1264.4 818.7,1261.1 C818.4,1257.8 818.7,1253.2 820.2,1250.4 Z" fill="#888" filter="url(#cellA)"/>
<path d="M870.4,1404.1 C871.5,1401.8 874.5,1399.6 876.5,1399.6 C878.6,1399.6 881.9,1401.8 882.6,1404.1 C883.4,1406.4 882.4,1410.7 881.1,1413.3 C879.8,1415.8 876.8,1419.3 875.0,1419.3 C873.2,1419.3 871.2,1415.8 870.4,1413.3 C869.7,1410.7 869.4,1406.4 870.4,1404.1 Z" fill="#fff" stroke="#e8e8e8" stroke-width="1.6" filter="url(#bl1)" opacity="0.8"/>
<path d="M870.4,1404.1 C871.5,1401.8 874.5,1399.6 876.5,1399.6 C878.6,1399.6 881.9,1401.8 882.6,1404.1 C883.4,1406.4 882.4,1410.7 881.1,1413.3 C879.8,1415.8 876.8,1419.3 875.0,1419.3 C873.2,1419.3 871.2,1415.8 870.4,1413.3 C869.7,1410.7 869.4,1406.4 870.4,1404.1 Z" fill="#888" filter="url(#cellA)"/>
<rect x="1045.10" y="1408.90" width="12.60" height="7.20" fill="#2a2a2a"/>
<rect x="1046.30" y="1410.50" width="10.20" height="3.20" fill="#fff"/>
</g>
<text x="561.49" y="969.30" font-size="33.80" font-weight="normal" font-style="italic" fill="#5f6669" text-anchor="start">PTPN14</text>
<text x="865.96" y="969.30" font-size="33.80" font-weight="normal" font-style="italic" fill="#5f6669" text-anchor="start">TET2</text>
<text x="1094.40" y="1165.94" font-size="33.80" font-weight="normal" font-style="normal" fill="#697073" text-anchor="start" transform="rotate(-90 1094.40 1165.94)">sgRNA 1</text>
<text x="1094.40" y="1367.35" font-size="33.80" font-weight="normal" font-style="normal" fill="#697073" text-anchor="start" transform="rotate(-90 1094.40 1367.35)">sgRNA 2</text>
<text x="137.70" y="1404.33" font-size="34.70" font-weight="normal" font-style="normal" fill="#697073" text-anchor="start" transform="rotate(-90 137.70 1404.33)">Ctrl sgRNA</text>
<text x="1163.04" y="975.40" font-size="69.00" font-weight="normal" font-style="normal" fill="#111" text-anchor="start">e</text>
<text x="1286.93" y="949.10" font-size="31.10" font-weight="bold" font-style="normal" fill="#111" text-anchor="start">10 d.p.f (n=50)</text>
<rect x="1247.05" y="1103.00" width="73.39" height="77.90" fill="#41339b" shape-rendering="crispEdges"/>
<rect x="1320.34" y="1103.00" width="14.76" height="77.90" fill="#a5abe1" shape-rendering="crispEdges"/>
<rect x="1335.00" y="1103.00" width="73.39" height="77.90" fill="#c5caee" shape-rendering="crispEdges"/>
<rect x="1408.29" y="1103.00" width="58.73" height="77.90" fill="#e6e4f6" shape-rendering="crispEdges"/>
<rect x="1481.58" y="1103.00" width="44.07" height="77.90" fill="#f8e5e5" shape-rendering="crispEdges"/>
<rect x="1525.55" y="1103.00" width="58.73" height="77.90" fill="#fbcdcd" shape-rendering="crispEdges"/>
<rect x="1584.18" y="1103.00" width="58.73" height="77.90" fill="#f8e5e5" shape-rendering="crispEdges"/>
<rect x="1745.42" y="1103.00" width="102.71" height="77.90" fill="#f8e5e5" shape-rendering="crispEdges"/>
<rect x="1877.34" y="1103.00" width="102.71" height="77.90" fill="#f8e5e5" shape-rendering="crispEdges"/>
<rect x="1276.37" y="1180.90" width="14.76" height="78.50" fill="#e6e4f6" shape-rendering="crispEdges"/>
<rect x="1291.02" y="1180.90" width="14.76" height="78.50" fill="#c5caee" shape-rendering="crispEdges"/>
<rect x="1305.68" y="1180.90" width="14.76" height="78.50" fill="#41339b" shape-rendering="crispEdges"/>
<rect x="1320.34" y="1180.90" width="29.42" height="78.50" fill="#e6e4f6" shape-rendering="crispEdges"/>
<rect x="1378.97" y="1180.90" width="29.42" height="78.50" fill="#f8e5e5" shape-rendering="crispEdges"/>
<rect x="1452.26" y="1180.90" width="29.42" height="78.50" fill="#f8e5e5" shape-rendering="crispEdges"/>
<rect x="1481.58" y="1180.90" width="14.76" height="78.50" fill="#fbcdcd" shape-rendering="crispEdges"/>
<rect x="1496.24" y="1180.90" width="29.42" height="78.50" fill="#f8e5e5" shape-rendering="crispEdges"/>
<rect x="1525.55" y="1180.90" width="58.73" height="78.50" fill="#fbcdcd" shape-rendering="crispEdges"/>
<rect x="1584.18" y="1180.90" width="14.76" height="78.50" fill="#e6e4f6" shape-rendering="crispEdges"/>
<rect x="1628.16" y="1180.90" width="14.76" height="78.50" fill="#f8e5e5" shape-rendering="crispEdges"/>
<rect x="1730.76" y="1180.90" width="14.76" height="78.50" fill="#f8e5e5" shape-rendering="crispEdges"/>
<rect x="1804.05" y="1180.90" width="176.00" height="78.50" fill="#f8e5e5" shape-rendering="crispEdges"/>
<rect x="1247.05" y="1259.40" width="29.42" height="78.30" fill="#f8e5e5" shape-rendering="crispEdges"/>
<rect x="1291.02" y="1259.40" width="14.76" height="78.30" fill="#f8e5e5" shape-rendering="crispEdges"/>
<rect x="1320.34" y="1259.40" width="14.76" height="78.30" fill="#f8e5e5" shape-rendering="crispEdges"/>
<rect x="1335.00" y="1259.40" width="14.76" height="78.30" fill="#fbcdcd" shape-rendering="crispEdges"/>
<rect x="1349.66" y="1259.40" width="44.07" height="78.30" fill="#f8e5e5" shape-rendering="crispEdges"/>
<rect x="1393.63" y="1259.40" width="14.76" height="78.30" fill="#fbcdcd" shape-rendering="crispEdges"/>
<rect x="1408.29" y="1259.40" width="29.42" height="78.30" fill="#f8e5e5" shape-rendering="crispEdges"/>
<rect x="1437.60" y="1259.40" width="29.42" height="78.30" fill="#fbcdcd" shape-rendering="crispEdges"/>
<rect x="1466.92" y="1259.40" width="29.42" height="78.30" fill="#feb0ac" shape-rendering="crispEdges"/>
<rect x="1496.24" y="1259.40" width="44.07" height="78.30" fill="#fbcdcd" shape-rendering="crispEdges"/>
<rect x="1540.21" y="1259.40" width="14.76" height="78.30" fill="#feb0ac" shape-rendering="crispEdges"/>
<rect x="1554.87" y="1259.40" width="102.71" height="78.30" fill="#fbcdcd" shape-rendering="crispEdges"/>
<rect x="1657.47" y="1259.40" width="14.76" height="78.30" fill="#f8e5e5" shape-rendering="crispEdges"/>
<rect x="1672.13" y="1259.40" width="14.76" height="78.30" fill="#fbcdcd" shape-rendering="crispEdges"/>
<rect x="1686.79" y="1259.40" width="102.71" height="78.30" fill="#f8e5e5" shape-rendering="crispEdges"/>
<rect x="1789.40" y="1259.40" width="190.65" height="78.30" fill="#fbcdcd" shape-rendering="crispEdges"/>
<text x="1179.83" y="1154.20" font-size="30.90" font-weight="normal" font-style="normal" fill="#111" text-anchor="start">PrE</text>
<text x="1181.33" y="1235.30" font-size="30.90" font-weight="normal" font-style="normal" fill="#111" text-anchor="start">EPI</text>
<text x="1174.15" y="1313.60" font-size="30.90" font-weight="normal" font-style="normal" fill="#111" text-anchor="start">CTB</text>
<path d="M1254.43,1094.70 V1090.70 H1269.09 V1094.70 M1261.76,1090.70 V1085.20 H1283.74 V1094.70 M1272.75,1085.20 V1072.40 H1298.40 V1094.70 M1285.58,1072.40 V1016.00 H1313.06 V1094.70 M1327.72,1094.70 V1077.40 H1342.38 V1094.70 M1357.03,1094.70 V1090.70 H1371.69 V1094.70 M1386.35,1094.70 V1090.70 H1401.01 V1094.70 M1364.36,1090.70 V1083.30 H1393.68 V1090.70 M1415.67,1094.70 V1087.20 H1430.32 V1094.70 M1444.98,1094.70 V1087.20 H1459.64 V1094.70 M1423.00,1087.20 V1078.30 H1452.31 V1087.20 M1379.02,1083.30 V1075.40 H1437.65 V1078.30 M1335.05,1077.40 V1070.50 H1408.34 V1075.40 M1503.62,1094.70 V1091.70 H1518.27 V1094.70 M1562.25,1094.70 V1092.70 H1576.90 V1094.70 M1547.59,1094.70 V1090.70 H1569.58 V1092.70 M1532.93,1094.70 V1089.20 H1558.58 V1090.70 M1510.94,1091.70 V1086.80 H1545.76 V1089.20 M1488.96,1094.70 V1083.80 H1528.35 V1086.80 M1474.30,1094.70 V1069.90 H1508.65 V1083.80 M1591.56,1094.70 V1092.10 H1606.22 V1094.70 M1620.88,1094.70 V1091.60 H1635.54 V1094.70 M1598.89,1092.10 V1081.20 H1628.21 V1091.60 M1664.85,1094.70 V1090.60 H1679.51 V1094.70 M1650.19,1094.70 V1089.30 H1672.18 V1090.60 M1708.83,1094.70 V1092.20 H1723.48 V1094.70 M1694.17,1094.70 V1090.60 H1716.16 V1092.20 M1752.80,1094.70 V1092.60 H1767.46 V1094.70 M1738.14,1094.70 V1090.60 H1760.13 V1092.60 M1705.16,1090.60 V1085.30 H1749.14 V1090.60 M1661.19,1089.30 V1082.80 H1727.15 V1085.30 M1782.12,1094.70 V1088.70 H1796.78 V1094.70 M1826.09,1094.70 V1092.20 H1840.75 V1094.70 M1811.43,1094.70 V1090.60 H1833.42 V1092.20 M1789.45,1088.70 V1085.30 H1822.43 V1090.60 M1855.41,1094.70 V1087.70 H1870.07 V1094.70 M1899.38,1094.70 V1091.00 H1914.04 V1094.70 M1884.72,1094.70 V1088.70 H1906.71 V1091.00 M1928.70,1094.70 V1090.30 H1943.36 V1094.70 M1958.01,1094.70 V1090.30 H1972.67 V1094.70 M1936.03,1090.30 V1088.10 H1965.34 V1090.30 M1895.72,1088.70 V1085.30 H1950.68 V1088.10 M1862.74,1087.70 V1083.20 H1923.20 V1085.30 M1805.94,1085.30 V1079.80 H1892.97 V1083.20 M1694.17,1082.80 V1074.90 H1849.45 V1079.80 M1613.55,1081.20 V1072.00 H1771.81 V1074.90 M1491.48,1069.90 V1065.60 H1692.68 V1072.00 M1371.69,1070.50 V1040.00 H1592.08 V1065.60 M1299.32,1016.00 V958.00 H1481.89 V1040.00" fill="none" stroke="#111" stroke-width="2.2" stroke-linejoin="miter" stroke-linecap="butt"/>
<rect x="1757.75" y="1000.40" width="11.88" height="24.60" fill="#41339b" shape-rendering="crispEdges"/>
<rect x="1769.53" y="1000.40" width="11.88" height="24.60" fill="#3c42a5" shape-rendering="crispEdges"/>
<rect x="1781.31" y="1000.40" width="11.88" height="24.60" fill="#5867b8" shape-rendering="crispEdges"/>
<rect x="1793.09" y="1000.40" width="11.88" height="24.60" fill="#7f87cc" shape-rendering="crispEdges"/>
<rect x="1804.87" y="1000.40" width="11.88" height="24.60" fill="#a5abe1" shape-rendering="crispEdges"/>
<rect x="1816.65" y="1000.40" width="11.88" height="24.60" fill="#c5caee" shape-rendering="crispEdges"/>
<rect x="1828.43" y="1000.40" width="11.88" height="24.60" fill="#e6e4f6" shape-rendering="crispEdges"/>
<rect x="1840.21" y="1000.40" width="11.88" height="24.60" fill="#ffffff" shape-rendering="crispEdges"/>
<rect x="1851.99" y="1000.40" width="11.88" height="24.60" fill="#f8e5e5" shape-rendering="crispEdges"/>
<rect x="1863.77" y="1000.40" width="11.88" height="24.60" fill="#fbcdcd" shape-rendering="crispEdges"/>
<rect x="1875.55" y="1000.40" width="11.88" height="24.60" fill="#feb0ac" shape-rendering="crispEdges"/>
<rect x="1887.33" y="1000.40" width="11.88" height="24.60" fill="#fc908a" shape-rendering="crispEdges"/>
<rect x="1899.11" y="1000.40" width="11.88" height="24.60" fill="#f56f66" shape-rendering="crispEdges"/>
<rect x="1910.89" y="1000.40" width="11.88" height="24.60" fill="#e84a42" shape-rendering="crispEdges"/>
<rect x="1922.67" y="1000.40" width="11.88" height="24.60" fill="#dd3327" shape-rendering="crispEdges"/>
<line x1="1756.80" y1="1025.60" x2="1935.50" y2="1025.60" stroke="#111" stroke-width="1.8" stroke-linecap="butt"/>
<line x1="1802.20" y1="1025.00" x2="1802.20" y2="1037.50" stroke="#111" stroke-width="1.8" stroke-linecap="butt"/>
<line x1="1846.40" y1="1025.00" x2="1846.40" y2="1037.50" stroke="#111" stroke-width="1.8" stroke-linecap="butt"/>
<line x1="1890.70" y1="1025.00" x2="1890.70" y2="1037.50" stroke="#111" stroke-width="1.8" stroke-linecap="butt"/>
<text x="1785.47" y="1060.70" font-size="18.60" font-weight="normal" font-style="normal" fill="#111" text-anchor="start">−10</text>
<text x="1841.46" y="1060.70" font-size="18.60" font-weight="normal" font-style="normal" fill="#111" text-anchor="start">0</text>
<text x="1880.01" y="1060.70" font-size="18.60" font-weight="normal" font-style="normal" fill="#111" text-anchor="start">10</text>
<text x="1786.29" y="987.30" font-size="24.70" font-weight="normal" font-style="normal" fill="#111" text-anchor="start">log2(FPKM)</text>
<text x="1429.14" y="1532.50" font-size="69.00" font-weight="normal" font-style="normal" fill="#111" text-anchor="start">g</text>
<text x="1486.83" y="1533.50" font-size="31.10" font-weight="bold" font-style="normal" fill="#111" text-anchor="start">10 d.p.f (n=33)</text>
<rect x="1499.85" y="1689.90" width="14.91" height="78.10" fill="#41339b" shape-rendering="crispEdges"/>
<rect x="1514.66" y="1689.90" width="29.72" height="78.10" fill="#e6e4f6" shape-rendering="crispEdges"/>
<rect x="1544.28" y="1689.90" width="14.91" height="78.10" fill="#f8e5e5" shape-rendering="crispEdges"/>
<rect x="1559.09" y="1689.90" width="59.34" height="78.10" fill="#fbcdcd" shape-rendering="crispEdges"/>
<rect x="1618.32" y="1689.90" width="14.91" height="78.10" fill="#c5caee" shape-rendering="crispEdges"/>
<rect x="1633.13" y="1689.90" width="29.72" height="78.10" fill="#e6e4f6" shape-rendering="crispEdges"/>
<rect x="1781.22" y="1689.90" width="44.53" height="78.10" fill="#f8e5e5" shape-rendering="crispEdges"/>
<rect x="1899.70" y="1689.90" width="14.91" height="78.10" fill="#f8e5e5" shape-rendering="crispEdges"/>
<rect x="1944.12" y="1689.90" width="44.53" height="78.10" fill="#f8e5e5" shape-rendering="crispEdges"/>
<rect x="1499.85" y="1768.00" width="14.91" height="77.80" fill="#f8e5e5" shape-rendering="crispEdges"/>
<rect x="1514.66" y="1768.00" width="59.34" height="77.80" fill="#feb0ac" shape-rendering="crispEdges"/>
<rect x="1573.90" y="1768.00" width="44.53" height="77.80" fill="#fbcdcd" shape-rendering="crispEdges"/>
<rect x="1618.32" y="1768.00" width="29.72" height="77.80" fill="#f8e5e5" shape-rendering="crispEdges"/>
<rect x="1677.56" y="1768.00" width="103.76" height="77.80" fill="#f8e5e5" shape-rendering="crispEdges"/>
<rect x="1781.22" y="1768.00" width="59.34" height="77.80" fill="#fbcdcd" shape-rendering="crispEdges"/>
<rect x="1840.46" y="1768.00" width="148.19" height="77.80" fill="#f8e5e5" shape-rendering="crispEdges"/>
<rect x="1499.85" y="1845.80" width="14.91" height="78.90" fill="#f8e5e5" shape-rendering="crispEdges"/>
<rect x="1514.66" y="1845.80" width="29.72" height="78.90" fill="#feb0ac" shape-rendering="crispEdges"/>
<rect x="1544.28" y="1845.80" width="14.91" height="78.90" fill="#fbcdcd" shape-rendering="crispEdges"/>
<rect x="1559.09" y="1845.80" width="14.91" height="78.90" fill="#feb0ac" shape-rendering="crispEdges"/>
<rect x="1573.90" y="1845.80" width="44.53" height="78.90" fill="#fbcdcd" shape-rendering="crispEdges"/>
<rect x="1618.32" y="1845.80" width="14.91" height="78.90" fill="#f8e5e5" shape-rendering="crispEdges"/>
<rect x="1633.13" y="1845.80" width="14.91" height="78.90" fill="#fbcdcd" shape-rendering="crispEdges"/>
<rect x="1647.94" y="1845.80" width="148.19" height="78.90" fill="#f8e5e5" shape-rendering="crispEdges"/>
<rect x="1796.03" y="1845.80" width="103.76" height="78.90" fill="#fbcdcd" shape-rendering="crispEdges"/>
<rect x="1899.70" y="1845.80" width="88.95" height="78.90" fill="#f8e5e5" shape-rendering="crispEdges"/>
<text x="1429.15" y="1738.90" font-size="30.90" font-weight="normal" font-style="normal" fill="#111" text-anchor="start">CTB</text>
<text x="1430.03" y="1820.50" font-size="30.90" font-weight="normal" font-style="normal" fill="#111" text-anchor="start">EPI</text>
<text x="1430.03" y="1893.00" font-size="30.90" font-weight="normal" font-style="normal" fill="#111" text-anchor="start">PrE</text>
<path d="M1522.11,1680.50 V1673.71 H1536.92 V1680.50 M1596.16,1680.50 V1675.80 H1610.97 V1680.50 M1581.35,1680.50 V1673.71 H1603.56 V1675.80 M1566.54,1680.50 V1667.98 H1592.46 V1673.71 M1551.73,1680.50 V1663.30 H1579.50 V1667.98 M1529.52,1673.71 V1637.52 H1565.62 V1663.30 M1625.78,1680.50 V1653.67 H1640.59 V1680.50 M1655.40,1680.50 V1673.71 H1670.20 V1680.50 M1699.82,1680.50 V1677.62 H1714.63 V1680.50 M1685.01,1680.50 V1675.80 H1707.23 V1677.62 M1729.44,1680.50 V1678.40 H1744.25 V1680.50 M1759.06,1680.50 V1678.40 H1773.87 V1680.50 M1736.85,1678.40 V1673.19 H1766.46 V1678.40 M1696.12,1675.80 V1669.29 H1751.65 V1673.19 M1662.80,1673.71 V1664.86 H1723.89 V1669.29 M1803.49,1680.50 V1677.10 H1818.30 V1680.50 M1788.68,1680.50 V1671.37 H1810.89 V1677.10 M1862.72,1680.50 V1675.80 H1877.53 V1680.50 M1847.91,1680.50 V1673.19 H1870.13 V1675.80 M1833.10,1680.50 V1667.98 H1859.02 V1673.19 M1892.34,1680.50 V1674.49 H1907.15 V1680.50 M1921.96,1680.50 V1676.32 H1936.77 V1680.50 M1966.39,1680.50 V1677.62 H1981.20 V1680.50 M1951.58,1680.50 V1675.27 H1973.79 V1677.62 M1929.36,1676.32 V1672.67 H1962.68 V1675.27 M1899.75,1674.49 V1670.07 H1946.02 V1672.67 M1846.06,1667.98 V1662.78 H1922.88 V1670.07 M1799.78,1671.37 V1656.27 H1884.47 V1662.78 M1693.34,1664.86 V1645.86 H1842.13 V1656.27 M1633.18,1653.67 V1628.15 H1767.74 V1645.86 M1547.57,1637.52 V1609.93 H1700.46 V1628.15 M1507.30,1680.50 V1544.84 H1624.01 V1609.93" fill="none" stroke="#111" stroke-width="2.2" stroke-linejoin="miter" stroke-linecap="butt"/>
<rect x="1804.15" y="1575.00" width="11.87" height="24.60" fill="#41339b" shape-rendering="crispEdges"/>
<rect x="1815.92" y="1575.00" width="11.87" height="24.60" fill="#3c42a5" shape-rendering="crispEdges"/>
<rect x="1827.70" y="1575.00" width="11.87" height="24.60" fill="#5867b8" shape-rendering="crispEdges"/>
<rect x="1839.47" y="1575.00" width="11.87" height="24.60" fill="#7f87cc" shape-rendering="crispEdges"/>
<rect x="1851.24" y="1575.00" width="11.87" height="24.60" fill="#a5abe1" shape-rendering="crispEdges"/>
<rect x="1863.02" y="1575.00" width="11.87" height="24.60" fill="#c5caee" shape-rendering="crispEdges"/>
<rect x="1874.79" y="1575.00" width="11.87" height="24.60" fill="#e6e4f6" shape-rendering="crispEdges"/>
<rect x="1886.56" y="1575.00" width="11.87" height="24.60" fill="#ffffff" shape-rendering="crispEdges"/>
<rect x="1898.34" y="1575.00" width="11.87" height="24.60" fill="#f8e5e5" shape-rendering="crispEdges"/>
<rect x="1910.11" y="1575.00" width="11.87" height="24.60" fill="#fbcdcd" shape-rendering="crispEdges"/>
<rect x="1921.88" y="1575.00" width="11.87" height="24.60" fill="#feb0ac" shape-rendering="crispEdges"/>
<rect x="1933.66" y="1575.00" width="11.87" height="24.60" fill="#fc908a" shape-rendering="crispEdges"/>
<rect x="1945.43" y="1575.00" width="11.87" height="24.60" fill="#f56f66" shape-rendering="crispEdges"/>
<rect x="1957.20" y="1575.00" width="11.87" height="24.60" fill="#e84a42" shape-rendering="crispEdges"/>
<rect x="1968.98" y="1575.00" width="11.87" height="24.60" fill="#dd3327" shape-rendering="crispEdges"/>
<line x1="1803.20" y1="1600.20" x2="1981.80" y2="1600.20" stroke="#111" stroke-width="1.8" stroke-linecap="butt"/>
<line x1="1848.00" y1="1599.60" x2="1848.00" y2="1612.80" stroke="#111" stroke-width="1.8" stroke-linecap="butt"/>
<line x1="1892.20" y1="1599.60" x2="1892.20" y2="1612.80" stroke="#111" stroke-width="1.8" stroke-linecap="butt"/>
<line x1="1936.80" y1="1599.60" x2="1936.80" y2="1612.80" stroke="#111" stroke-width="1.8" stroke-linecap="butt"/>
<text x="1832.17" y="1635.40" font-size="18.60" font-weight="normal" font-style="normal" fill="#111" text-anchor="start">−10</text>
<text x="1886.86" y="1635.40" font-size="18.60" font-weight="normal" font-style="normal" fill="#111" text-anchor="start">0</text>
<text x="1926.01" y="1635.40" font-size="18.60" font-weight="normal" font-style="normal" fill="#111" text-anchor="start">10</text>
<text x="1832.59" y="1561.80" font-size="24.70" font-weight="normal" font-style="normal" fill="#111" text-anchor="start">log2(FPKM)</text>
<text x="-0.53" y="1531.80" font-size="68.50" font-weight="normal" font-style="normal" fill="#111" text-anchor="start">f</text>
<text x="-0.56" y="1764.80" font-size="68.00" font-weight="normal" font-style="normal" fill="#111" text-anchor="start">h</text>
<circle cx="134.10" cy="1555.10" r="9.90" fill="#a447b9"/>
<circle cx="168.40" cy="1555.10" r="4.60" fill="#a447b9"/>
<circle cx="202.60" cy="1555.10" r="11.40" fill="#9341b6"/>
<circle cx="236.70" cy="1555.10" r="4.40" fill="#7d4fb2"/>
<circle cx="271.00" cy="1555.10" r="4.40" fill="#9341b6"/>
<circle cx="305.20" cy="1555.10" r="4.80" fill="#6a59b3"/>
<circle cx="134.10" cy="1595.60" r="9.90" fill="#9341b6"/>
<circle cx="168.40" cy="1595.60" r="13.40" fill="#b551b8"/>
<circle cx="202.60" cy="1595.60" r="9.90" fill="#9341b6"/>
<circle cx="236.70" cy="1595.60" r="8.80" fill="#9341b6"/>
<circle cx="271.00" cy="1595.60" r="8.10" fill="#9341b6"/>
<circle cx="305.20" cy="1595.60" r="4.80" fill="#6a59b3"/>
<circle cx="134.10" cy="1636.20" r="16.30" fill="#d65a7e"/>
<circle cx="168.40" cy="1636.20" r="16.30" fill="#d65a7e"/>
<circle cx="202.60" cy="1636.20" r="16.30" fill="#d65a7e"/>
<circle cx="236.70" cy="1636.20" r="16.30" fill="#d65a7e"/>
<circle cx="271.00" cy="1636.20" r="16.30" fill="#d45a80"/>
<circle cx="305.20" cy="1636.20" r="16.30" fill="#d0588a"/>
<line x1="113.70" y1="1530.70" x2="113.70" y2="1662.50" stroke="#1a1a1a" stroke-width="3.4" stroke-linecap="butt"/>
<line x1="112.00" y1="1660.80" x2="325.60" y2="1660.80" stroke="#1a1a1a" stroke-width="3.5" stroke-linecap="butt"/>
<line x1="107.00" y1="1555.10" x2="112.50" y2="1555.10" stroke="#464b4d" stroke-width="3.2" stroke-linecap="butt"/>
<line x1="107.00" y1="1595.60" x2="112.50" y2="1595.60" stroke="#464b4d" stroke-width="3.2" stroke-linecap="butt"/>
<line x1="107.00" y1="1636.20" x2="112.50" y2="1636.20" stroke="#464b4d" stroke-width="3.2" stroke-linecap="butt"/>
<line x1="134.10" y1="1662.00" x2="134.10" y2="1667.00" stroke="#464b4d" stroke-width="3.4" stroke-linecap="butt"/>
<line x1="168.40" y1="1662.00" x2="168.40" y2="1667.00" stroke="#464b4d" stroke-width="3.4" stroke-linecap="butt"/>
<line x1="202.60" y1="1662.00" x2="202.60" y2="1667.00" stroke="#464b4d" stroke-width="3.4" stroke-linecap="butt"/>
<line x1="236.70" y1="1662.00" x2="236.70" y2="1667.00" stroke="#464b4d" stroke-width="3.4" stroke-linecap="butt"/>
<line x1="271.00" y1="1662.00" x2="271.00" y2="1667.00" stroke="#464b4d" stroke-width="3.4" stroke-linecap="butt"/>
<line x1="305.20" y1="1662.00" x2="305.20" y2="1667.00" stroke="#464b4d" stroke-width="3.4" stroke-linecap="butt"/>
<text x="134.10" y="1691.40" font-size="26.00" font-weight="normal" font-style="normal" fill="#636a6d" text-anchor="middle">7</text>
<text x="168.40" y="1691.40" font-size="26.00" font-weight="normal" font-style="normal" fill="#636a6d" text-anchor="middle">8</text>
<text x="202.60" y="1691.40" font-size="26.00" font-weight="normal" font-style="normal" fill="#636a6d" text-anchor="middle">9</text>
<text x="236.70" y="1691.40" font-size="26.00" font-weight="normal" font-style="normal" fill="#636a6d" text-anchor="middle">10</text>
<text x="271.00" y="1691.40" font-size="26.00" font-weight="normal" font-style="normal" fill="#636a6d" text-anchor="middle">12</text>
<text x="305.20" y="1691.40" font-size="26.00" font-weight="normal" font-style="normal" fill="#636a6d" text-anchor="middle">14</text>
<text x="170.79" y="1523.10" font-size="34.20" font-weight="bold" font-style="italic" fill="#111" text-anchor="start">GCM1</text>
<text x="95.30" y="1564.50" font-size="30.60" font-weight="normal" font-style="normal" fill="#111" text-anchor="end">PrE</text>
<text x="94.00" y="1605.30" font-size="30.60" font-weight="normal" font-style="normal" fill="#111" text-anchor="end">EPI</text>
<text x="96.70" y="1645.40" font-size="30.60" font-weight="normal" font-style="normal" fill="#111" text-anchor="end">CTB</text>
<circle cx="387.90" cy="1555.10" r="9.80" fill="#a447b9"/>
<circle cx="422.10" cy="1555.10" r="4.40" fill="#a447b9"/>
<circle cx="456.30" cy="1555.10" r="11.40" fill="#b551b8"/>
<circle cx="490.20" cy="1555.10" r="4.40" fill="#9341b6"/>
<circle cx="524.40" cy="1555.10" r="13.00" fill="#a447b9"/>
<circle cx="558.60" cy="1555.10" r="16.40" fill="#c153ab"/>
<circle cx="387.90" cy="1595.60" r="8.70" fill="#9341b6"/>
<circle cx="422.10" cy="1595.60" r="10.80" fill="#a447b9"/>
<circle cx="456.30" cy="1595.60" r="4.40" fill="#7d4fb2"/>
<circle cx="490.20" cy="1595.60" r="4.40" fill="#9341b6"/>
<circle cx="524.40" cy="1595.60" r="7.10" fill="#7d4fb2"/>
<circle cx="558.60" cy="1595.60" r="6.70" fill="#9341b6"/>
<circle cx="387.90" cy="1636.20" r="16.40" fill="#c9569a"/>
<circle cx="422.10" cy="1636.20" r="16.40" fill="#c9569a"/>
<circle cx="456.30" cy="1636.20" r="15.90" fill="#c855a0"/>
<circle cx="490.20" cy="1636.20" r="15.90" fill="#c153ab"/>
<circle cx="524.40" cy="1636.20" r="13.90" fill="#b551b8"/>
<circle cx="558.60" cy="1636.20" r="15.20" fill="#bb53b2"/>
<line x1="366.60" y1="1530.70" x2="366.60" y2="1662.50" stroke="#1a1a1a" stroke-width="3.4" stroke-linecap="butt"/>
<line x1="364.90" y1="1660.80" x2="579.60" y2="1660.80" stroke="#1a1a1a" stroke-width="3.5" stroke-linecap="butt"/>
<line x1="359.90" y1="1555.10" x2="365.40" y2="1555.10" stroke="#464b4d" stroke-width="3.2" stroke-linecap="butt"/>
<line x1="359.90" y1="1595.60" x2="365.40" y2="1595.60" stroke="#464b4d" stroke-width="3.2" stroke-linecap="butt"/>
<line x1="359.90" y1="1636.20" x2="365.40" y2="1636.20" stroke="#464b4d" stroke-width="3.2" stroke-linecap="butt"/>
<line x1="387.90" y1="1662.00" x2="387.90" y2="1667.00" stroke="#464b4d" stroke-width="3.4" stroke-linecap="butt"/>
<line x1="422.10" y1="1662.00" x2="422.10" y2="1667.00" stroke="#464b4d" stroke-width="3.4" stroke-linecap="butt"/>
<line x1="456.30" y1="1662.00" x2="456.30" y2="1667.00" stroke="#464b4d" stroke-width="3.4" stroke-linecap="butt"/>
<line x1="490.20" y1="1662.00" x2="490.20" y2="1667.00" stroke="#464b4d" stroke-width="3.4" stroke-linecap="butt"/>
<line x1="524.40" y1="1662.00" x2="524.40" y2="1667.00" stroke="#464b4d" stroke-width="3.4" stroke-linecap="butt"/>
<line x1="558.60" y1="1662.00" x2="558.60" y2="1667.00" stroke="#464b4d" stroke-width="3.4" stroke-linecap="butt"/>
<text x="387.90" y="1691.40" font-size="26.00" font-weight="normal" font-style="normal" fill="#636a6d" text-anchor="middle">7</text>
<text x="422.10" y="1691.40" font-size="26.00" font-weight="normal" font-style="normal" fill="#636a6d" text-anchor="middle">8</text>
<text x="456.30" y="1691.40" font-size="26.00" font-weight="normal" font-style="normal" fill="#636a6d" text-anchor="middle">9</text>
<text x="490.20" y="1691.40" font-size="26.00" font-weight="normal" font-style="normal" fill="#636a6d" text-anchor="middle">10</text>
<text x="524.40" y="1691.40" font-size="26.00" font-weight="normal" font-style="normal" fill="#636a6d" text-anchor="middle">12</text>
<text x="558.60" y="1691.40" font-size="26.00" font-weight="normal" font-style="normal" fill="#636a6d" text-anchor="middle">14</text>
<text x="430.51" y="1523.10" font-size="34.20" font-weight="bold" font-style="italic" fill="#111" text-anchor="start">TET2</text>
<circle cx="644.20" cy="1555.10" r="9.80" fill="#a447b9"/>
<circle cx="678.40" cy="1555.10" r="4.40" fill="#8a4ab4"/>
<circle cx="712.50" cy="1555.10" r="4.40" fill="#6a59b3"/>
<circle cx="746.50" cy="1555.10" r="4.40" fill="#8350b3"/>
<circle cx="780.60" cy="1555.10" r="10.10" fill="#9c44b8"/>
<circle cx="815.10" cy="1555.10" r="4.40" fill="#6a59b3"/>
<circle cx="644.20" cy="1595.60" r="4.40" fill="#6a59b3"/>
<circle cx="678.40" cy="1595.60" r="4.40" fill="#7d4fb2"/>
<circle cx="712.50" cy="1595.60" r="4.40" fill="#8f45b6"/>
<circle cx="746.50" cy="1595.60" r="4.40" fill="#8a4ab4"/>
<circle cx="780.60" cy="1595.60" r="7.00" fill="#7d4fb2"/>
<circle cx="815.10" cy="1595.60" r="7.80" fill="#9341b6"/>
<circle cx="644.20" cy="1636.20" r="9.20" fill="#9d44b8"/>
<circle cx="678.40" cy="1636.20" r="10.10" fill="#9341b6"/>
<circle cx="712.50" cy="1636.20" r="9.20" fill="#a447b9"/>
<circle cx="746.50" cy="1636.20" r="9.20" fill="#a447b9"/>
<circle cx="780.60" cy="1636.20" r="10.10" fill="#a447b9"/>
<circle cx="815.10" cy="1636.20" r="10.10" fill="#9341b6"/>
<line x1="622.90" y1="1530.70" x2="622.90" y2="1662.50" stroke="#1a1a1a" stroke-width="3.4" stroke-linecap="butt"/>
<line x1="621.20" y1="1660.80" x2="835.30" y2="1660.80" stroke="#1a1a1a" stroke-width="3.5" stroke-linecap="butt"/>
<line x1="616.20" y1="1555.10" x2="621.70" y2="1555.10" stroke="#464b4d" stroke-width="3.2" stroke-linecap="butt"/>
<line x1="616.20" y1="1595.60" x2="621.70" y2="1595.60" stroke="#464b4d" stroke-width="3.2" stroke-linecap="butt"/>
<line x1="616.20" y1="1636.20" x2="621.70" y2="1636.20" stroke="#464b4d" stroke-width="3.2" stroke-linecap="butt"/>
<line x1="644.20" y1="1662.00" x2="644.20" y2="1667.00" stroke="#464b4d" stroke-width="3.4" stroke-linecap="butt"/>
<line x1="678.40" y1="1662.00" x2="678.40" y2="1667.00" stroke="#464b4d" stroke-width="3.4" stroke-linecap="butt"/>
<line x1="712.50" y1="1662.00" x2="712.50" y2="1667.00" stroke="#464b4d" stroke-width="3.4" stroke-linecap="butt"/>
<line x1="746.50" y1="1662.00" x2="746.50" y2="1667.00" stroke="#464b4d" stroke-width="3.4" stroke-linecap="butt"/>
<line x1="780.60" y1="1662.00" x2="780.60" y2="1667.00" stroke="#464b4d" stroke-width="3.4" stroke-linecap="butt"/>
<line x1="815.10" y1="1662.00" x2="815.10" y2="1667.00" stroke="#464b4d" stroke-width="3.4" stroke-linecap="butt"/>
<text x="644.20" y="1691.40" font-size="26.00" font-weight="normal" font-style="normal" fill="#636a6d" text-anchor="middle">7</text>
<text x="678.40" y="1691.40" font-size="26.00" font-weight="normal" font-style="normal" fill="#636a6d" text-anchor="middle">8</text>
<text x="712.50" y="1691.40" font-size="26.00" font-weight="normal" font-style="normal" fill="#636a6d" text-anchor="middle">9</text>
<text x="746.50" y="1691.40" font-size="26.00" font-weight="normal" font-style="normal" fill="#636a6d" text-anchor="middle">10</text>
<text x="780.60" y="1691.40" font-size="26.00" font-weight="normal" font-style="normal" fill="#636a6d" text-anchor="middle">12</text>
<text x="815.10" y="1691.40" font-size="26.00" font-weight="normal" font-style="normal" fill="#636a6d" text-anchor="middle">14</text>
<text x="686.58" y="1523.10" font-size="34.20" font-weight="bold" font-style="italic" fill="#111" text-anchor="start">AJUBA</text>
<circle cx="901.40" cy="1555.10" r="4.60" fill="#8b47b5"/>
<circle cx="935.70" cy="1555.10" r="4.60" fill="#7d4fb2"/>
<circle cx="969.90" cy="1555.10" r="4.60" fill="#a447b9"/>
<circle cx="1004.10" cy="1555.10" r="4.60" fill="#a447b9"/>
<circle cx="1038.30" cy="1555.10" r="12.80" fill="#a84aba"/>
<circle cx="1072.50" cy="1555.10" r="16.40" fill="#b551b8"/>
<circle cx="901.40" cy="1595.60" r="12.80" fill="#a447b9"/>
<circle cx="935.70" cy="1595.60" r="12.80" fill="#b04eb9"/>
<circle cx="969.90" cy="1595.60" r="10.90" fill="#a447b9"/>
<circle cx="1004.10" cy="1595.60" r="9.90" fill="#a447b9"/>
<circle cx="1038.30" cy="1595.60" r="15.20" fill="#b551b8"/>
<circle cx="1072.50" cy="1595.60" r="12.30" fill="#a84aba"/>
<circle cx="901.40" cy="1636.20" r="12.30" fill="#a447b9"/>
<circle cx="935.70" cy="1636.20" r="13.80" fill="#ae4cb9"/>
<circle cx="969.90" cy="1636.20" r="14.80" fill="#b551b8"/>
<circle cx="1004.10" cy="1636.20" r="14.80" fill="#ba53b6"/>
<circle cx="1038.30" cy="1636.20" r="14.80" fill="#ba53b6"/>
<circle cx="1072.50" cy="1636.20" r="13.80" fill="#b04eb9"/>
<line x1="880.60" y1="1530.70" x2="880.60" y2="1662.50" stroke="#1a1a1a" stroke-width="3.4" stroke-linecap="butt"/>
<line x1="878.90" y1="1660.80" x2="1092.80" y2="1660.80" stroke="#1a1a1a" stroke-width="3.5" stroke-linecap="butt"/>
<line x1="873.90" y1="1555.10" x2="879.40" y2="1555.10" stroke="#464b4d" stroke-width="3.2" stroke-linecap="butt"/>
<line x1="873.90" y1="1595.60" x2="879.40" y2="1595.60" stroke="#464b4d" stroke-width="3.2" stroke-linecap="butt"/>
<line x1="873.90" y1="1636.20" x2="879.40" y2="1636.20" stroke="#464b4d" stroke-width="3.2" stroke-linecap="butt"/>
<line x1="901.40" y1="1662.00" x2="901.40" y2="1667.00" stroke="#464b4d" stroke-width="3.4" stroke-linecap="butt"/>
<line x1="935.70" y1="1662.00" x2="935.70" y2="1667.00" stroke="#464b4d" stroke-width="3.4" stroke-linecap="butt"/>
<line x1="969.90" y1="1662.00" x2="969.90" y2="1667.00" stroke="#464b4d" stroke-width="3.4" stroke-linecap="butt"/>
<line x1="1004.10" y1="1662.00" x2="1004.10" y2="1667.00" stroke="#464b4d" stroke-width="3.4" stroke-linecap="butt"/>
<line x1="1038.30" y1="1662.00" x2="1038.30" y2="1667.00" stroke="#464b4d" stroke-width="3.4" stroke-linecap="butt"/>
<line x1="1072.50" y1="1662.00" x2="1072.50" y2="1667.00" stroke="#464b4d" stroke-width="3.4" stroke-linecap="butt"/>
<text x="901.40" y="1691.40" font-size="26.00" font-weight="normal" font-style="normal" fill="#636a6d" text-anchor="middle">7</text>
<text x="935.70" y="1691.40" font-size="26.00" font-weight="normal" font-style="normal" fill="#636a6d" text-anchor="middle">8</text>
<text x="969.90" y="1691.40" font-size="26.00" font-weight="normal" font-style="normal" fill="#636a6d" text-anchor="middle">9</text>
<text x="1004.10" y="1691.40" font-size="26.00" font-weight="normal" font-style="normal" fill="#636a6d" text-anchor="middle">10</text>
<text x="1038.30" y="1691.40" font-size="26.00" font-weight="normal" font-style="normal" fill="#636a6d" text-anchor="middle">12</text>
<text x="1072.50" y="1691.40" font-size="26.00" font-weight="normal" font-style="normal" fill="#636a6d" text-anchor="middle">14</text>
<text x="944.78" y="1523.10" font-size="34.20" font-weight="bold" font-style="italic" fill="#111" text-anchor="start">AXIN2</text>
<circle cx="138.50" cy="1791.80" r="15.50" fill="#c9569a"/>
<circle cx="174.20" cy="1791.80" r="13.70" fill="#c153ab"/>
<circle cx="210.20" cy="1791.80" r="12.00" fill="#ae4dbb"/>
<circle cx="246.00" cy="1791.80" r="14.80" fill="#ca5694"/>
<circle cx="281.70" cy="1791.80" r="16.30" fill="#d45984"/>
<circle cx="317.40" cy="1791.80" r="17.10" fill="#c9569a"/>
<circle cx="138.50" cy="1834.40" r="17.10" fill="#d65a7e"/>
<circle cx="174.20" cy="1834.40" r="16.60" fill="#cb5694"/>
<circle cx="210.20" cy="1834.40" r="16.60" fill="#c9569a"/>
<circle cx="246.00" cy="1834.40" r="16.60" fill="#d45988"/>
<circle cx="281.70" cy="1834.40" r="15.10" fill="#c153ab"/>
<circle cx="317.40" cy="1834.40" r="14.80" fill="#c153ab"/>
<circle cx="138.50" cy="1877.40" r="7.80" fill="#7d4fb2"/>
<circle cx="174.20" cy="1877.40" r="6.50" fill="#7254b1"/>
<circle cx="210.20" cy="1877.40" r="4.30" fill="#6a59b3"/>
<circle cx="246.00" cy="1877.40" r="4.30" fill="#6a59b3"/>
<circle cx="281.70" cy="1877.40" r="4.30" fill="#6a59b3"/>
<circle cx="317.40" cy="1877.40" r="4.30" fill="#6a59b3"/>
<line x1="116.80" y1="1766.80" x2="116.80" y2="1905.20" stroke="#1a1a1a" stroke-width="3.4" stroke-linecap="butt"/>
<line x1="115.10" y1="1903.50" x2="339.10" y2="1903.50" stroke="#1a1a1a" stroke-width="3.5" stroke-linecap="butt"/>
<line x1="110.10" y1="1791.80" x2="115.60" y2="1791.80" stroke="#464b4d" stroke-width="3.2" stroke-linecap="butt"/>
<line x1="110.10" y1="1834.40" x2="115.60" y2="1834.40" stroke="#464b4d" stroke-width="3.2" stroke-linecap="butt"/>
<line x1="110.10" y1="1877.40" x2="115.60" y2="1877.40" stroke="#464b4d" stroke-width="3.2" stroke-linecap="butt"/>
<line x1="138.50" y1="1904.70" x2="138.50" y2="1909.70" stroke="#464b4d" stroke-width="3.4" stroke-linecap="butt"/>
<line x1="174.20" y1="1904.70" x2="174.20" y2="1909.70" stroke="#464b4d" stroke-width="3.4" stroke-linecap="butt"/>
<line x1="210.20" y1="1904.70" x2="210.20" y2="1909.70" stroke="#464b4d" stroke-width="3.4" stroke-linecap="butt"/>
<line x1="246.00" y1="1904.70" x2="246.00" y2="1909.70" stroke="#464b4d" stroke-width="3.4" stroke-linecap="butt"/>
<line x1="281.70" y1="1904.70" x2="281.70" y2="1909.70" stroke="#464b4d" stroke-width="3.4" stroke-linecap="butt"/>
<line x1="317.40" y1="1904.70" x2="317.40" y2="1909.70" stroke="#464b4d" stroke-width="3.4" stroke-linecap="butt"/>
<text x="138.50" y="1934.10" font-size="26.00" font-weight="normal" font-style="normal" fill="#636a6d" text-anchor="middle">7</text>
<text x="174.20" y="1934.10" font-size="26.00" font-weight="normal" font-style="normal" fill="#636a6d" text-anchor="middle">8</text>
<text x="210.20" y="1934.10" font-size="26.00" font-weight="normal" font-style="normal" fill="#636a6d" text-anchor="middle">9</text>
<text x="246.00" y="1934.10" font-size="26.00" font-weight="normal" font-style="normal" fill="#636a6d" text-anchor="middle">10</text>
<text x="281.70" y="1934.10" font-size="26.00" font-weight="normal" font-style="normal" fill="#636a6d" text-anchor="middle">12</text>
<text x="317.40" y="1934.10" font-size="26.00" font-weight="normal" font-style="normal" fill="#636a6d" text-anchor="middle">14</text>
<text x="173.99" y="1757.80" font-size="34.20" font-weight="bold" font-style="italic" fill="#111" text-anchor="start">NODAL</text>
<text x="95.60" y="1801.60" font-size="30.60" font-weight="normal" font-style="normal" fill="#111" text-anchor="end">PrE</text>
<text x="94.40" y="1844.20" font-size="30.60" font-weight="normal" font-style="normal" fill="#111" text-anchor="end">EPI</text>
<text x="96.40" y="1887.00" font-size="30.60" font-weight="normal" font-style="normal" fill="#111" text-anchor="end">CTB</text>
<text x="202.29" y="1966.20" font-size="27.70" font-weight="normal" font-style="normal" fill="#636a6d" text-anchor="start">d.p.f</text>
<circle cx="389.10" cy="1791.80" r="17.10" fill="#c9569a"/>
<circle cx="425.20" cy="1791.80" r="17.10" fill="#c9569a"/>
<circle cx="460.90" cy="1791.80" r="15.10" fill="#c052ae"/>
<circle cx="496.90" cy="1791.80" r="17.10" fill="#c053ae"/>
<circle cx="532.60" cy="1791.80" r="16.30" fill="#c153ab"/>
<circle cx="568.30" cy="1791.80" r="17.10" fill="#ca5696"/>
<circle cx="389.10" cy="1834.40" r="7.80" fill="#9341b6"/>
<circle cx="425.20" cy="1834.40" r="10.90" fill="#a447b9"/>
<circle cx="460.90" cy="1834.40" r="13.70" fill="#b551b8"/>
<circle cx="496.90" cy="1834.40" r="10.60" fill="#a447b9"/>
<circle cx="532.60" cy="1834.40" r="13.70" fill="#b551b8"/>
<circle cx="568.30" cy="1834.40" r="14.00" fill="#b04eba"/>
<circle cx="389.10" cy="1877.40" r="15.50" fill="#be52b2"/>
<circle cx="425.20" cy="1877.40" r="14.30" fill="#bb52b4"/>
<circle cx="460.90" cy="1877.40" r="14.00" fill="#b551b8"/>
<circle cx="496.90" cy="1877.40" r="12.10" fill="#b04eba"/>
<circle cx="532.60" cy="1877.40" r="10.60" fill="#a447b9"/>
<circle cx="568.30" cy="1877.40" r="10.60" fill="#8d40b6"/>
<line x1="368.30" y1="1766.80" x2="368.30" y2="1905.20" stroke="#1a1a1a" stroke-width="3.4" stroke-linecap="butt"/>
<line x1="366.60" y1="1903.50" x2="590.00" y2="1903.50" stroke="#1a1a1a" stroke-width="3.5" stroke-linecap="butt"/>
<line x1="361.60" y1="1791.80" x2="367.10" y2="1791.80" stroke="#464b4d" stroke-width="3.2" stroke-linecap="butt"/>
<line x1="361.60" y1="1834.40" x2="367.10" y2="1834.40" stroke="#464b4d" stroke-width="3.2" stroke-linecap="butt"/>
<line x1="361.60" y1="1877.40" x2="367.10" y2="1877.40" stroke="#464b4d" stroke-width="3.2" stroke-linecap="butt"/>
<line x1="389.10" y1="1904.70" x2="389.10" y2="1909.70" stroke="#464b4d" stroke-width="3.4" stroke-linecap="butt"/>
<line x1="425.20" y1="1904.70" x2="425.20" y2="1909.70" stroke="#464b4d" stroke-width="3.4" stroke-linecap="butt"/>
<line x1="460.90" y1="1904.70" x2="460.90" y2="1909.70" stroke="#464b4d" stroke-width="3.4" stroke-linecap="butt"/>
<line x1="496.90" y1="1904.70" x2="496.90" y2="1909.70" stroke="#464b4d" stroke-width="3.4" stroke-linecap="butt"/>
<line x1="532.60" y1="1904.70" x2="532.60" y2="1909.70" stroke="#464b4d" stroke-width="3.4" stroke-linecap="butt"/>
<line x1="568.30" y1="1904.70" x2="568.30" y2="1909.70" stroke="#464b4d" stroke-width="3.4" stroke-linecap="butt"/>
<text x="389.10" y="1934.10" font-size="26.00" font-weight="normal" font-style="normal" fill="#636a6d" text-anchor="middle">7</text>
<text x="425.20" y="1934.10" font-size="26.00" font-weight="normal" font-style="normal" fill="#636a6d" text-anchor="middle">8</text>
<text x="460.90" y="1934.10" font-size="26.00" font-weight="normal" font-style="normal" fill="#636a6d" text-anchor="middle">9</text>
<text x="496.90" y="1934.10" font-size="26.00" font-weight="normal" font-style="normal" fill="#636a6d" text-anchor="middle">10</text>
<text x="532.60" y="1934.10" font-size="26.00" font-weight="normal" font-style="normal" fill="#636a6d" text-anchor="middle">12</text>
<text x="568.30" y="1934.10" font-size="26.00" font-weight="normal" font-style="normal" fill="#636a6d" text-anchor="middle">14</text>
<text x="432.41" y="1757.80" font-size="34.20" font-weight="bold" font-style="italic" fill="#111" text-anchor="start">TBX3</text>
<text x="452.89" y="1966.20" font-size="27.70" font-weight="normal" font-style="normal" fill="#636a6d" text-anchor="start">d.p.f</text>
<circle cx="644.30" cy="1791.80" r="14.50" fill="#b551b8"/>
<circle cx="680.30" cy="1791.80" r="13.50" fill="#a447b9"/>
<circle cx="716.40" cy="1791.80" r="4.60" fill="#6a59b3"/>
<circle cx="752.40" cy="1791.80" r="14.90" fill="#b04eba"/>
<circle cx="788.40" cy="1791.80" r="11.80" fill="#9341b6"/>
<circle cx="824.40" cy="1791.80" r="4.60" fill="#6a59b3"/>
<circle cx="644.30" cy="1834.40" r="12.40" fill="#a447b9"/>
<circle cx="680.30" cy="1834.40" r="12.80" fill="#a447b9"/>
<circle cx="716.40" cy="1834.40" r="16.60" fill="#c053ae"/>
<circle cx="752.40" cy="1834.40" r="15.50" fill="#b953b6"/>
<circle cx="788.40" cy="1834.40" r="14.90" fill="#b551b8"/>
<circle cx="824.40" cy="1834.40" r="12.40" fill="#aa4aba"/>
<circle cx="644.30" cy="1877.40" r="11.40" fill="#9a43b8"/>
<circle cx="680.30" cy="1877.40" r="12.40" fill="#a447b9"/>
<circle cx="716.40" cy="1877.40" r="12.80" fill="#ae4cba"/>
<circle cx="752.40" cy="1877.40" r="9.30" fill="#a447b9"/>
<circle cx="788.40" cy="1877.40" r="11.40" fill="#a447b9"/>
<circle cx="824.40" cy="1877.40" r="10.40" fill="#a447b9"/>
<line x1="622.50" y1="1766.80" x2="622.50" y2="1905.20" stroke="#1a1a1a" stroke-width="3.4" stroke-linecap="butt"/>
<line x1="620.80" y1="1903.50" x2="846.40" y2="1903.50" stroke="#1a1a1a" stroke-width="3.5" stroke-linecap="butt"/>
<line x1="615.80" y1="1791.80" x2="621.30" y2="1791.80" stroke="#464b4d" stroke-width="3.2" stroke-linecap="butt"/>
<line x1="615.80" y1="1834.40" x2="621.30" y2="1834.40" stroke="#464b4d" stroke-width="3.2" stroke-linecap="butt"/>
<line x1="615.80" y1="1877.40" x2="621.30" y2="1877.40" stroke="#464b4d" stroke-width="3.2" stroke-linecap="butt"/>
<line x1="644.30" y1="1904.70" x2="644.30" y2="1909.70" stroke="#464b4d" stroke-width="3.4" stroke-linecap="butt"/>
<line x1="680.30" y1="1904.70" x2="680.30" y2="1909.70" stroke="#464b4d" stroke-width="3.4" stroke-linecap="butt"/>
<line x1="716.40" y1="1904.70" x2="716.40" y2="1909.70" stroke="#464b4d" stroke-width="3.4" stroke-linecap="butt"/>
<line x1="752.40" y1="1904.70" x2="752.40" y2="1909.70" stroke="#464b4d" stroke-width="3.4" stroke-linecap="butt"/>
<line x1="788.40" y1="1904.70" x2="788.40" y2="1909.70" stroke="#464b4d" stroke-width="3.4" stroke-linecap="butt"/>
<line x1="824.40" y1="1904.70" x2="824.40" y2="1909.70" stroke="#464b4d" stroke-width="3.4" stroke-linecap="butt"/>
<text x="644.30" y="1934.10" font-size="26.00" font-weight="normal" font-style="normal" fill="#636a6d" text-anchor="middle">7</text>
<text x="680.30" y="1934.10" font-size="26.00" font-weight="normal" font-style="normal" fill="#636a6d" text-anchor="middle">8</text>
<text x="716.40" y="1934.10" font-size="26.00" font-weight="normal" font-style="normal" fill="#636a6d" text-anchor="middle">9</text>
<text x="752.40" y="1934.10" font-size="26.00" font-weight="normal" font-style="normal" fill="#636a6d" text-anchor="middle">10</text>
<text x="788.40" y="1934.10" font-size="26.00" font-weight="normal" font-style="normal" fill="#636a6d" text-anchor="middle">12</text>
<text x="824.40" y="1934.10" font-size="26.00" font-weight="normal" font-style="normal" fill="#636a6d" text-anchor="middle">14</text>
<text x="649.99" y="1757.80" font-size="34.20" font-weight="bold" font-style="italic" fill="#111" text-anchor="start">MAPKAPK3</text>
<text x="702.39" y="1966.20" font-size="27.70" font-weight="normal" font-style="normal" fill="#636a6d" text-anchor="start">d.p.f</text>
<circle cx="902.70" cy="1791.80" r="12.80" fill="#b551b8"/>
<circle cx="938.70" cy="1791.80" r="13.50" fill="#bb52b4"/>
<circle cx="974.30" cy="1791.80" r="4.60" fill="#a447b9"/>
<circle cx="1010.40" cy="1791.80" r="14.90" fill="#b551b8"/>
<circle cx="1046.00" cy="1791.80" r="14.10" fill="#b953b6"/>
<circle cx="1081.60" cy="1791.80" r="17.20" fill="#c454a8"/>
<circle cx="902.70" cy="1834.40" r="8.30" fill="#9341b6"/>
<circle cx="938.70" cy="1834.40" r="11.40" fill="#9341b6"/>
<circle cx="974.30" cy="1834.40" r="11.80" fill="#9c44b8"/>
<circle cx="1010.40" cy="1834.40" r="11.40" fill="#a447b9"/>
<circle cx="1046.00" cy="1834.40" r="11.40" fill="#a447b9"/>
<circle cx="1081.60" cy="1834.40" r="11.80" fill="#a447b9"/>
<circle cx="902.70" cy="1877.40" r="7.20" fill="#8c42b5"/>
<circle cx="938.70" cy="1877.40" r="9.30" fill="#a447b9"/>
<circle cx="974.30" cy="1877.40" r="8.30" fill="#a447b9"/>
<circle cx="1010.40" cy="1877.40" r="8.70" fill="#a447b9"/>
<circle cx="1046.00" cy="1877.40" r="11.40" fill="#a447b9"/>
<circle cx="1081.60" cy="1877.40" r="5.00" fill="#a447b9"/>
<line x1="881.30" y1="1766.80" x2="881.30" y2="1905.20" stroke="#1a1a1a" stroke-width="3.4" stroke-linecap="butt"/>
<line x1="879.60" y1="1903.50" x2="1103.10" y2="1903.50" stroke="#1a1a1a" stroke-width="3.5" stroke-linecap="butt"/>
<line x1="874.60" y1="1791.80" x2="880.10" y2="1791.80" stroke="#464b4d" stroke-width="3.2" stroke-linecap="butt"/>
<line x1="874.60" y1="1834.40" x2="880.10" y2="1834.40" stroke="#464b4d" stroke-width="3.2" stroke-linecap="butt"/>
<line x1="874.60" y1="1877.40" x2="880.10" y2="1877.40" stroke="#464b4d" stroke-width="3.2" stroke-linecap="butt"/>
<line x1="902.70" y1="1904.70" x2="902.70" y2="1909.70" stroke="#464b4d" stroke-width="3.4" stroke-linecap="butt"/>
<line x1="938.70" y1="1904.70" x2="938.70" y2="1909.70" stroke="#464b4d" stroke-width="3.4" stroke-linecap="butt"/>
<line x1="974.30" y1="1904.70" x2="974.30" y2="1909.70" stroke="#464b4d" stroke-width="3.4" stroke-linecap="butt"/>
<line x1="1010.40" y1="1904.70" x2="1010.40" y2="1909.70" stroke="#464b4d" stroke-width="3.4" stroke-linecap="butt"/>
<line x1="1046.00" y1="1904.70" x2="1046.00" y2="1909.70" stroke="#464b4d" stroke-width="3.4" stroke-linecap="butt"/>
<line x1="1081.60" y1="1904.70" x2="1081.60" y2="1909.70" stroke="#464b4d" stroke-width="3.4" stroke-linecap="butt"/>
<text x="902.70" y="1934.10" font-size="26.00" font-weight="normal" font-style="normal" fill="#636a6d" text-anchor="middle">7</text>
<text x="938.70" y="1934.10" font-size="26.00" font-weight="normal" font-style="normal" fill="#636a6d" text-anchor="middle">8</text>
<text x="974.30" y="1934.10" font-size="26.00" font-weight="normal" font-style="normal" fill="#636a6d" text-anchor="middle">9</text>
<text x="1010.40" y="1934.10" font-size="26.00" font-weight="normal" font-style="normal" fill="#636a6d" text-anchor="middle">10</text>
<text x="1046.00" y="1934.10" font-size="26.00" font-weight="normal" font-style="normal" fill="#636a6d" text-anchor="middle">12</text>
<text x="1081.60" y="1934.10" font-size="26.00" font-weight="normal" font-style="normal" fill="#636a6d" text-anchor="middle">14</text>
<text x="942.56" y="1757.80" font-size="34.20" font-weight="bold" font-style="italic" fill="#111" text-anchor="start">SAV1</text>
<text x="963.29" y="1966.20" font-size="27.70" font-weight="normal" font-style="normal" fill="#636a6d" text-anchor="start">d.p.f</text>
<circle cx="1154.90" cy="1791.80" r="12.80" fill="#a447b9"/>
<circle cx="1190.90" cy="1791.80" r="4.60" fill="#9341b6"/>
<circle cx="1226.90" cy="1791.80" r="12.40" fill="#b04eba"/>
<circle cx="1262.90" cy="1791.80" r="11.80" fill="#ae4cba"/>
<circle cx="1299.00" cy="1791.80" r="13.50" fill="#b551b8"/>
<circle cx="1334.60" cy="1791.80" r="4.60" fill="#a447b9"/>
<circle cx="1154.90" cy="1834.40" r="15.50" fill="#bb52b4"/>
<circle cx="1190.90" cy="1834.40" r="13.50" fill="#b551b8"/>
<circle cx="1226.90" cy="1834.40" r="17.20" fill="#be52b0"/>
<circle cx="1262.90" cy="1834.40" r="12.40" fill="#b551b8"/>
<circle cx="1299.00" cy="1834.40" r="9.90" fill="#aa4aba"/>
<circle cx="1334.60" cy="1834.40" r="10.40" fill="#ae4cba"/>
<circle cx="1154.90" cy="1877.40" r="8.30" fill="#a447b9"/>
<circle cx="1190.90" cy="1877.40" r="7.20" fill="#a447b9"/>
<circle cx="1226.90" cy="1877.40" r="7.70" fill="#a447b9"/>
<circle cx="1262.90" cy="1877.40" r="5.00" fill="#a447b9"/>
<circle cx="1299.00" cy="1877.40" r="5.00" fill="#a447b9"/>
<circle cx="1334.60" cy="1877.40" r="10.80" fill="#9341b6"/>
<line x1="1133.00" y1="1766.80" x2="1133.00" y2="1905.20" stroke="#1a1a1a" stroke-width="3.4" stroke-linecap="butt"/>
<line x1="1131.30" y1="1903.50" x2="1356.90" y2="1903.50" stroke="#1a1a1a" stroke-width="3.5" stroke-linecap="butt"/>
<line x1="1126.30" y1="1791.80" x2="1131.80" y2="1791.80" stroke="#464b4d" stroke-width="3.2" stroke-linecap="butt"/>
<line x1="1126.30" y1="1834.40" x2="1131.80" y2="1834.40" stroke="#464b4d" stroke-width="3.2" stroke-linecap="butt"/>
<line x1="1126.30" y1="1877.40" x2="1131.80" y2="1877.40" stroke="#464b4d" stroke-width="3.2" stroke-linecap="butt"/>
<line x1="1154.90" y1="1904.70" x2="1154.90" y2="1909.70" stroke="#464b4d" stroke-width="3.4" stroke-linecap="butt"/>
<line x1="1190.90" y1="1904.70" x2="1190.90" y2="1909.70" stroke="#464b4d" stroke-width="3.4" stroke-linecap="butt"/>
<line x1="1226.90" y1="1904.70" x2="1226.90" y2="1909.70" stroke="#464b4d" stroke-width="3.4" stroke-linecap="butt"/>
<line x1="1262.90" y1="1904.70" x2="1262.90" y2="1909.70" stroke="#464b4d" stroke-width="3.4" stroke-linecap="butt"/>
<line x1="1299.00" y1="1904.70" x2="1299.00" y2="1909.70" stroke="#464b4d" stroke-width="3.4" stroke-linecap="butt"/>
<line x1="1334.60" y1="1904.70" x2="1334.60" y2="1909.70" stroke="#464b4d" stroke-width="3.4" stroke-linecap="butt"/>
<text x="1154.90" y="1934.10" font-size="26.00" font-weight="normal" font-style="normal" fill="#636a6d" text-anchor="middle">7</text>
<text x="1190.90" y="1934.10" font-size="26.00" font-weight="normal" font-style="normal" fill="#636a6d" text-anchor="middle">8</text>
<text x="1226.90" y="1934.10" font-size="26.00" font-weight="normal" font-style="normal" fill="#636a6d" text-anchor="middle">9</text>
<text x="1262.90" y="1934.10" font-size="26.00" font-weight="normal" font-style="normal" fill="#636a6d" text-anchor="middle">10</text>
<text x="1299.00" y="1934.10" font-size="26.00" font-weight="normal" font-style="normal" fill="#636a6d" text-anchor="middle">12</text>
<text x="1334.60" y="1934.10" font-size="26.00" font-weight="normal" font-style="normal" fill="#636a6d" text-anchor="middle">14</text>
<text x="1193.69" y="1757.80" font-size="34.20" font-weight="bold" font-style="italic" fill="#111" text-anchor="start">NF2</text>
<text x="1218.79" y="1966.20" font-size="27.70" font-weight="normal" font-style="normal" fill="#636a6d" text-anchor="start">d.p.f</text>
<text x="1127.10" y="1722.28" font-size="27.30" font-weight="normal" font-style="normal" fill="#111" text-anchor="start" transform="rotate(-90 1127.10 1722.28)">Percentage of Cells</text>
<text x="1154.80" y="1691.90" font-size="27.50" font-weight="normal" font-style="normal" fill="#111" text-anchor="start" transform="rotate(-90 1154.80 1691.90)">with FPKM&gt;10</text>
<text x="1289.70" y="1741.52" font-size="27.70" font-weight="normal" font-style="normal" fill="#111" text-anchor="start" transform="rotate(-90 1289.70 1741.52)">Expression: log2(FPKM)</text>
<text x="1217.30" y="1520.60" font-size="20.30" font-weight="normal" font-style="normal" fill="#111" text-anchor="end">0%</text>
<circle cx="1239.70" cy="1514.00" r="4.70" fill="#444"/>
<text x="1217.30" y="1561.60" font-size="20.30" font-weight="normal" font-style="normal" fill="#111" text-anchor="end">25%</text>
<circle cx="1239.70" cy="1554.80" r="11.10" fill="#444"/>
<text x="1217.30" y="1602.30" font-size="20.30" font-weight="normal" font-style="normal" fill="#111" text-anchor="end">50%</text>
<circle cx="1239.70" cy="1595.40" r="13.70" fill="#444"/>
<text x="1217.30" y="1643.30" font-size="20.30" font-weight="normal" font-style="normal" fill="#111" text-anchor="end">75%</text>
<circle cx="1239.70" cy="1636.40" r="15.60" fill="#444"/>
<text x="1217.30" y="1684.30" font-size="20.30" font-weight="normal" font-style="normal" fill="#111" text-anchor="end">100%</text>
<circle cx="1239.70" cy="1677.40" r="17.30" fill="#444"/>
<defs><linearGradient id="gr" x1="0" y1="0" x2="0" y2="1"><stop offset="0" stop-color="#e03b22"/><stop offset="0.091" stop-color="#d93a45"/><stop offset="0.318" stop-color="#cd3765"/><stop offset="0.545" stop-color="#bb2f8e"/><stop offset="0.68" stop-color="#b52aa5"/><stop offset="0.773" stop-color="#a127b0"/><stop offset="0.89" stop-color="#7514a6"/><stop offset="0.95" stop-color="#5b2aa8"/><stop offset="1" stop-color="#4a40b0"/></linearGradient></defs>
<rect x="1305.10" y="1490.70" width="40.60" height="202.90" fill="url(#gr)"/>
<line x1="1305.10" y1="1509.20" x2="1312.80" y2="1509.20" stroke="#fff" stroke-width="1.1" stroke-linecap="butt"/>
<line x1="1337.50" y1="1509.20" x2="1345.70" y2="1509.20" stroke="#fff" stroke-width="1.1" stroke-linecap="butt"/>
<text x="1357.80" y="1516.00" font-size="21.40" font-weight="normal" font-style="normal" fill="#111" text-anchor="start">10.0</text>
<line x1="1305.10" y1="1555.60" x2="1312.80" y2="1555.60" stroke="#fff" stroke-width="1.1" stroke-linecap="butt"/>
<line x1="1337.50" y1="1555.60" x2="1345.70" y2="1555.60" stroke="#fff" stroke-width="1.1" stroke-linecap="butt"/>
<text x="1358.33" y="1562.10" font-size="21.40" font-weight="normal" font-style="normal" fill="#111" text-anchor="start">7.5</text>
<line x1="1305.10" y1="1601.80" x2="1312.80" y2="1601.80" stroke="#fff" stroke-width="1.1" stroke-linecap="butt"/>
<line x1="1337.50" y1="1601.80" x2="1345.70" y2="1601.80" stroke="#fff" stroke-width="1.1" stroke-linecap="butt"/>
<text x="1358.54" y="1608.60" font-size="21.40" font-weight="normal" font-style="normal" fill="#111" text-anchor="start">5.0</text>
<line x1="1305.10" y1="1647.90" x2="1312.80" y2="1647.90" stroke="#fff" stroke-width="1.1" stroke-linecap="butt"/>
<line x1="1337.50" y1="1647.90" x2="1345.70" y2="1647.90" stroke="#fff" stroke-width="1.1" stroke-linecap="butt"/>
<text x="1358.33" y="1654.70" font-size="21.40" font-weight="normal" font-style="normal" fill="#111" text-anchor="start">2.5</text>
<line x1="1305.10" y1="1693.40" x2="1312.80" y2="1693.40" stroke="#fff" stroke-width="1.1" stroke-linecap="butt"/>
<line x1="1337.50" y1="1693.40" x2="1345.70" y2="1693.40" stroke="#fff" stroke-width="1.1" stroke-linecap="butt"/>
<text x="1358.54" y="1700.80" font-size="21.40" font-weight="normal" font-style="normal" fill="#111" text-anchor="start">0.0</text>
</svg>
</body></html>
